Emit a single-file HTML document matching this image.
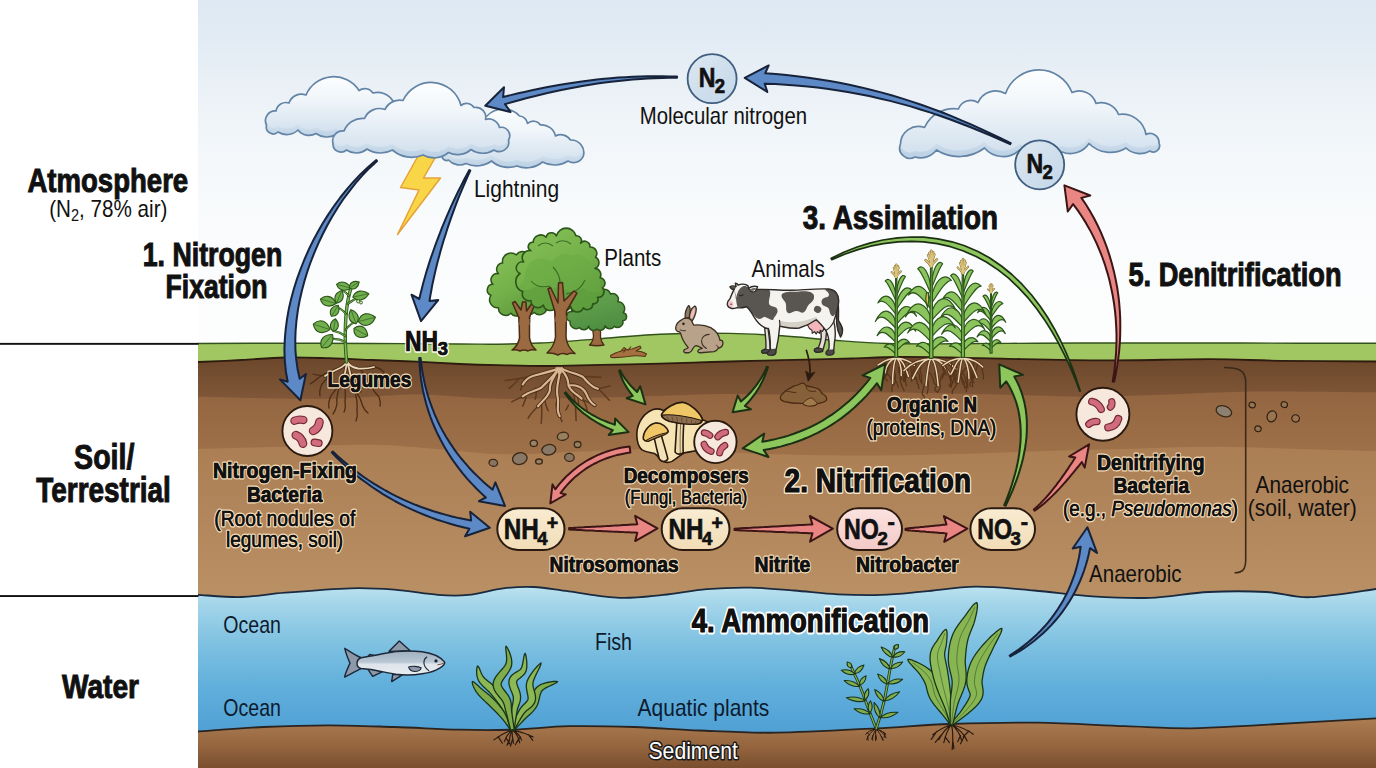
<!DOCTYPE html>
<html lang="en"><head><meta charset="utf-8"><title>Nitrogen Cycle</title>
<style>
html,body{margin:0;padding:0;background:#fff;}
body{width:1376px;height:768px;overflow:hidden;font-family:"Liberation Sans",sans-serif;}
svg{display:block}
text{font-family:"Liberation Sans",sans-serif;fill:#111}
.b{font-weight:bold}
.o{paint-order:stroke fill;stroke:#f3dfbd;stroke-width:3px;stroke-linejoin:round}
.ow{paint-order:stroke fill;stroke:#fff;stroke-width:4.8px;stroke-linejoin:round}
.on{paint-order:stroke fill;stroke:#f6e8cf;stroke-width:4px;stroke-linejoin:round}

.oc{paint-order:stroke fill;stroke:#fdfbf0;stroke-width:3.6px;stroke-linejoin:round}
.sb{stroke:#111;stroke-width:0.7px}
.st{stroke:#111;stroke-width:1px}
.sr{stroke:#111;stroke-width:0.4px}
.wt{fill:#0d1b2e}
.sd{fill:#fff;paint-order:stroke fill;stroke:#1a1a1a;stroke-width:3px;stroke-linejoin:round}
</style></head><body>
<svg width="1376" height="768" viewBox="0 0 1376 768">
<!-- 00_bg.py -->

<defs>
<linearGradient id="sky" x1="0" y1="0" x2="0" y2="1"><stop offset="0" stop-color="#dde8f2"/><stop offset="0.12" stop-color="#e3ecf4"/><stop offset="0.28" stop-color="#ecf2f7"/><stop offset="0.42" stop-color="#f3f7fa"/><stop offset="0.6" stop-color="#f9fbfc"/><stop offset="1" stop-color="#fefefe"/></linearGradient>
<linearGradient id="water" gradientUnits="userSpaceOnUse" x1="0" y1="588" x2="0" y2="735"><stop offset="0" stop-color="#bae1ef"/><stop offset="0.1" stop-color="#a5d6ea"/><stop offset="0.35" stop-color="#82c3e2"/><stop offset="0.65" stop-color="#62b0dc"/><stop offset="1" stop-color="#4f9fd4"/></linearGradient>
<linearGradient id="soil1" gradientUnits="userSpaceOnUse" x1="0" y1="358" x2="0" y2="405"><stop offset="0" stop-color="#6c472b"/><stop offset="1" stop-color="#835a3a"/></linearGradient>
<linearGradient id="soil2" gradientUnits="userSpaceOnUse" x1="0" y1="395" x2="0" y2="460"><stop offset="0" stop-color="#936641"/><stop offset="1" stop-color="#a0724a"/></linearGradient>
<linearGradient id="soil3" gradientUnits="userSpaceOnUse" x1="0" y1="445" x2="0" y2="600"><stop offset="0" stop-color="#ab7e54"/><stop offset="1" stop-color="#ba9065"/></linearGradient>
<linearGradient id="sedg" gradientUnits="userSpaceOnUse" x1="0" y1="722" x2="0" y2="768"><stop offset="0" stop-color="#a97a50"/><stop offset="0.5" stop-color="#96663f"/><stop offset="1" stop-color="#7a4f2e"/></linearGradient>
<linearGradient id="cl" x1="0" y1="0" x2="0" y2="1"><stop offset="0" stop-color="#fbfdff"/><stop offset="0.6" stop-color="#e6eef6"/><stop offset="1" stop-color="#b9cfe3"/></linearGradient>
<filter id="blur2" x="-5%" y="-50%" width="110%" height="200%"><feGaussianBlur stdDeviation="1.5"/></filter>
</defs>
<rect x="0" y="0" width="1376" height="768" fill="#ffffff"/>
<rect x="198" y="0" width="1178" height="362" fill="url(#sky)"/>
<path d="M198 343.5 C212.5 343.4 256 343.2 285 343.2 C314 343.2 342.8 343.4 372 343.5 C401.2 343.6 439 343.9 460 344 C481 344.1 484.7 344.4 498 344.2 C511.3 344 524.7 343.8 540 343 C555.3 342.2 570 341.1 590 339.6 C610 338.1 636.7 335.2 660 334.2 C683.3 333.2 709.7 333.1 730 333.4 C750.3 333.7 764.7 334.7 782 335.8 C799.3 336.9 816.5 338.9 834 340.2 C851.5 341.5 867.7 342.9 887 343.5 C906.3 344.1 925 343.9 950 343.8 C975 343.8 1007.8 343.3 1037 343.2 C1066.2 343.1 1095.8 343 1125 343 C1154.2 343 1183 343 1212 343 C1241 343 1271.7 343.2 1299 343.2 C1326.3 343.2 1363.2 343.2 1376 343.2 L1376 380 L198 380 Z" fill="#a0c762"/><path d="M198 343.5 C212.5 343.4 256 343.2 285 343.2 C314 343.2 342.8 343.4 372 343.5 C401.2 343.6 439 343.9 460 344 C481 344.1 484.7 344.4 498 344.2 C511.3 344 524.7 343.8 540 343 C555.3 342.2 570 341.1 590 339.6 C610 338.1 636.7 335.2 660 334.2 C683.3 333.2 709.7 333.1 730 333.4 C750.3 333.7 764.7 334.7 782 335.8 C799.3 336.9 816.5 338.9 834 340.2 C851.5 341.5 867.7 342.9 887 343.5 C906.3 344.1 925 343.9 950 343.8 C975 343.8 1007.8 343.3 1037 343.2 C1066.2 343.1 1095.8 343 1125 343 C1154.2 343 1183 343 1212 343 C1241 343 1271.7 343.2 1299 343.2 C1326.3 343.2 1363.2 343.2 1376 343.2" fill="none" stroke="#33521c" stroke-width="1.4"/><path d="M198 362 C205.3 361.7 227.1 360.8 241.6 360 C256.1 359.2 270.4 357.8 285 357.5 C299.6 357.2 314.5 357.8 329 358.2 C343.5 358.6 357.5 359.4 372 360 C386.5 360.6 401.3 361 416 361.7 C430.7 362.4 446.3 363.4 460 364 C473.7 364.6 483.5 364.9 498 365.2 C512.5 365.5 530 366.1 547 366 C564 365.9 581.2 365.2 600 364.8 C618.8 364.4 641.3 364.2 660 363.7 C678.7 363.2 694.5 362.5 712 362 C729.5 361.5 747.5 361 765 360.6 C782.5 360.2 802.5 359.8 817 359.4 C831.5 359 838.5 358.9 852 358.5 C865.5 358.1 881.7 357.2 898 357 C914.3 356.8 932.7 357.2 950 357.5 C967.3 357.8 976 358.2 1002 358.7 C1028 359.2 1071.3 360.3 1106 360.4 C1140.7 360.5 1181 359.1 1210 359.2 C1239 359.3 1252.3 360.4 1280 360.8 C1307.7 361.2 1360 361.4 1376 361.5 L1376 612 L198 612 Z" fill="url(#soil1)"/><path d="M198 362 C205.3 361.7 227.1 360.8 241.6 360 C256.1 359.2 270.4 357.8 285 357.5 C299.6 357.2 314.5 357.8 329 358.2 C343.5 358.6 357.5 359.4 372 360 C386.5 360.6 401.3 361 416 361.7 C430.7 362.4 446.3 363.4 460 364 C473.7 364.6 483.5 364.9 498 365.2 C512.5 365.5 530 366.1 547 366 C564 365.9 581.2 365.2 600 364.8 C618.8 364.4 641.3 364.2 660 363.7 C678.7 363.2 694.5 362.5 712 362 C729.5 361.5 747.5 361 765 360.6 C782.5 360.2 802.5 359.8 817 359.4 C831.5 359 838.5 358.9 852 358.5 C865.5 358.1 881.7 357.2 898 357 C914.3 356.8 932.7 357.2 950 357.5 C967.3 357.8 976 358.2 1002 358.7 C1028 359.2 1071.3 360.3 1106 360.4 C1140.7 360.5 1181 359.1 1210 359.2 C1239 359.3 1252.3 360.4 1280 360.8 C1307.7 361.2 1360 361.4 1376 361.5" fill="none" stroke="#2e1c10" stroke-width="1.8"/><path d="M198 396.7 C219.8 397.1 292.7 399.3 329 398.9 C365.3 398.5 387 394.5 416 394.5 C445 394.5 466.7 398.5 503 398.9 C539.3 399.3 597.8 397.5 634 396.7 C670.2 395.9 696.3 394.4 720 394 C743.7 393.6 752.2 394.8 776 394.5 C799.8 394.2 826.7 392.3 863 392.3 C899.3 392.3 957.7 393.8 994 394.5 C1030.3 395.2 1052 396.7 1081 396.7 C1110 396.7 1138.8 395.4 1168 394.5 C1197.2 393.6 1221.3 391.9 1256 391.5 C1290.7 391.1 1356 392.2 1376 392.3 L1376 612 L198 612 Z" fill="url(#soil2)"/><path d="M198 449 C212.5 448.6 256 447.5 285 446.8 C314 446.1 346.5 444.3 372 444.7 C397.5 445.1 416.2 447.4 438 449 C459.8 450.6 477.7 453.9 503 454.3 C528.3 454.7 564.5 452.1 590 451.2 C615.5 450.3 634.3 448.9 656 449 C677.7 449.1 700 451.1 720 452 C740 452.9 752.2 453.7 776 454.3 C799.8 454.9 834 455.6 863 455.6 C892 455.6 920.8 455 950 454.3 C979.2 453.6 1008.8 452.1 1038 451.2 C1067.2 450.3 1096 449.7 1125 449 C1154 448.3 1183 446.8 1212 446.8 C1241 446.8 1271.7 448.3 1299 449 C1326.3 449.7 1363.2 450.8 1376 451.2 L1376 612 L198 612 Z" fill="url(#soil3)"/><path d="M198 594.9 C205.3 595.2 227.1 597.4 241.6 597 C256.1 596.6 267 594.2 285.2 592.7 C303.4 591.2 332.4 588.8 350.6 588.3 C368.8 587.8 379.6 588.6 394.2 589.7 C408.8 590.8 425.5 594 437.9 594.9 C450.3 595.8 457.5 596 468.4 594.9 C479.3 593.8 492.4 589.6 503.3 588.3 C514.2 587 522.9 586.5 533.8 587 C544.7 587.5 554.4 589.6 568.7 591.4 C583 593.2 603.9 597.2 619.6 597.8 C635.4 598.4 648.7 596.3 663.2 594.9 C677.7 593.5 692.3 590.3 706.8 589.1 C721.3 587.9 735.9 587.4 750.4 587.6 C764.9 587.8 779.5 589.4 794 590.5 C808.5 591.6 823.1 593.6 837.6 594.3 C852.1 595 866.7 595.4 881.2 594.9 C895.7 594.4 909 592.8 924.8 591.4 C940.6 590 957.8 586.9 976 586.7 C994.2 586.6 1014.7 588.9 1034 590.5 C1053.3 592.1 1072.7 595.1 1092 596.3 C1111.3 597.5 1130.6 598.5 1150 597.8 C1169.4 597.1 1189.1 593 1208.6 592 C1228 591 1249.8 591.1 1266.7 592 C1283.6 592.9 1291.8 597.7 1310 597.2 C1328.2 596.7 1365 590.4 1376 589 L1376 745 L198 745 Z" fill="url(#water)"/><path d="M198 594.9 C205.3 595.2 227.1 597.4 241.6 597 C256.1 596.6 267 594.2 285.2 592.7 C303.4 591.2 332.4 588.8 350.6 588.3 C368.8 587.8 379.6 588.6 394.2 589.7 C408.8 590.8 425.5 594 437.9 594.9 C450.3 595.8 457.5 596 468.4 594.9 C479.3 593.8 492.4 589.6 503.3 588.3 C514.2 587 522.9 586.5 533.8 587 C544.7 587.5 554.4 589.6 568.7 591.4 C583 593.2 603.9 597.2 619.6 597.8 C635.4 598.4 648.7 596.3 663.2 594.9 C677.7 593.5 692.3 590.3 706.8 589.1 C721.3 587.9 735.9 587.4 750.4 587.6 C764.9 587.8 779.5 589.4 794 590.5 C808.5 591.6 823.1 593.6 837.6 594.3 C852.1 595 866.7 595.4 881.2 594.9 C895.7 594.4 909 592.8 924.8 591.4 C940.6 590 957.8 586.9 976 586.7 C994.2 586.6 1014.7 588.9 1034 590.5 C1053.3 592.1 1072.7 595.1 1092 596.3 C1111.3 597.5 1130.6 598.5 1150 597.8 C1169.4 597.1 1189.1 593 1208.6 592 C1228 591 1249.8 591.1 1266.7 592 C1283.6 592.9 1291.8 597.7 1310 597.2 C1328.2 596.7 1365 590.4 1376 589" fill="none" stroke="#1b2b3f" stroke-width="1.8"/><path d="M198 731.4 C208.9 730.7 241.6 728 263.4 727 C285.2 726 307 725.3 328.8 725.3 C350.6 725.3 372.4 726.3 394.2 727 C416 727.7 440.1 729.2 459.7 729.7 C479.3 730.2 493.8 730.3 512 729.7 C530.2 729.1 548.4 726.7 568.7 726.2 C589 725.8 612.2 726.3 634 727 C655.8 727.7 675.8 729.5 699.5 730.5 C723.2 731.5 746.5 733.1 776 732.7 C805.5 732.3 847.2 729.8 876.3 728.3 C905.4 726.8 923.5 724.9 950.4 724 C977.3 723.1 1008.6 722.3 1037.7 722.7 C1066.8 723.1 1099.6 725.3 1125 726.2 C1150.4 727.1 1168.5 728.4 1190.3 728.3 C1212.1 728.1 1224.8 727 1255.7 725.3 C1286.7 723.6 1356 719.5 1376 718.3 L1376 768 L198 768 Z" fill="url(#sedg)"/><path d="M198 731.4 C208.9 730.7 241.6 728 263.4 727 C285.2 726 307 725.3 328.8 725.3 C350.6 725.3 372.4 726.3 394.2 727 C416 727.7 440.1 729.2 459.7 729.7 C479.3 730.2 493.8 730.3 512 729.7 C530.2 729.1 548.4 726.7 568.7 726.2 C589 725.8 612.2 726.3 634 727 C655.8 727.7 675.8 729.5 699.5 730.5 C723.2 731.5 746.5 733.1 776 732.7 C805.5 732.3 847.2 729.8 876.3 728.3 C905.4 726.8 923.5 724.9 950.4 724 C977.3 723.1 1008.6 722.3 1037.7 722.7 C1066.8 723.1 1099.6 725.3 1125 726.2 C1150.4 727.1 1168.5 728.4 1190.3 728.3 C1212.1 728.1 1224.8 727 1255.7 725.3 C1286.7 723.6 1356 719.5 1376 718.3" fill="none" stroke="#2a2420" stroke-width="1.8"/><rect x="0" y="342.9" width="198.5" height="1.9" fill="#111"/>
<rect x="0" y="595.1" width="198.5" height="1.9" fill="#111"/>

<!-- 10_clouds.py -->
<defs><linearGradient id="cl2" x1="0" y1="0" x2="0" y2="1"><stop offset="0" stop-color="#ffffff"/><stop offset="0.45" stop-color="#f1f6fa"/><stop offset="1" stop-color="#d3e1ee"/></linearGradient></defs><g><clipPath id="cA"><path d="M266.5 125 A9.7 9.7 0 0 1 276 111 A10.1 10.1 0 0 1 289 103 A13 13 0 0 1 306 95 A30.1 30.1 0 0 1 359 90.5 A9.9 9.9 0 0 1 373 93 A18.3 18.3 0 0 1 393 101 A12.6 12.6 0 0 1 400 118 A18.1 18.1 0 0 1 385 135 A29.8 29.8 0 0 1 357 134.5 A19.9 19.9 0 0 1 336 134.5 A18.2 18.2 0 0 1 316 133.5 A13.8 13.8 0 0 1 298 130 A16.2 16.2 0 0 1 278 132 A7 7 0 0 1 266.5 125Z"/></clipPath><path d="M266.5 125 A9.7 9.7 0 0 1 276 111 A10.1 10.1 0 0 1 289 103 A13 13 0 0 1 306 95 A30.1 30.1 0 0 1 359 90.5 A9.9 9.9 0 0 1 373 93 A18.3 18.3 0 0 1 393 101 A12.6 12.6 0 0 1 400 118 A18.1 18.1 0 0 1 385 135 A29.8 29.8 0 0 1 357 134.5 A19.9 19.9 0 0 1 336 134.5 A18.2 18.2 0 0 1 316 133.5 A13.8 13.8 0 0 1 298 130 A16.2 16.2 0 0 1 278 132 A7 7 0 0 1 266.5 125Z" fill="url(#cl)"/><g clip-path="url(#cA)"><path d="M266.5 125 A9.7 9.7 0 0 1 276 111 A10.1 10.1 0 0 1 289 103 A13 13 0 0 1 306 95 A30.1 30.1 0 0 1 359 90.5 A9.9 9.9 0 0 1 373 93 A18.3 18.3 0 0 1 393 101 A12.6 12.6 0 0 1 400 118 A18.1 18.1 0 0 1 385 135 A29.8 29.8 0 0 1 357 134.5 A19.9 19.9 0 0 1 336 134.5 A18.2 18.2 0 0 1 316 133.5 A13.8 13.8 0 0 1 298 130 A16.2 16.2 0 0 1 278 132 A7 7 0 0 1 266.5 125Z" transform="translate(0,-6)" fill="url(#cl2)"/></g><path d="M266.5 125 A9.7 9.7 0 0 1 276 111 A10.1 10.1 0 0 1 289 103 A13 13 0 0 1 306 95 A30.1 30.1 0 0 1 359 90.5 A9.9 9.9 0 0 1 373 93 A18.3 18.3 0 0 1 393 101 A12.6 12.6 0 0 1 400 118 A18.1 18.1 0 0 1 385 135 A29.8 29.8 0 0 1 357 134.5 A19.9 19.9 0 0 1 336 134.5 A18.2 18.2 0 0 1 316 133.5 A13.8 13.8 0 0 1 298 130 A16.2 16.2 0 0 1 278 132 A7 7 0 0 1 266.5 125Z" fill="none" stroke="#6384a6" stroke-width="1.7" stroke-linejoin="round"/></g><g><clipPath id="cC"><path d="M442.5 154 A12.9 12.9 0 0 1 450 135 A45.8 45.8 0 0 1 487 116 A22.4 22.4 0 0 1 519.5 116 A8.5 8.5 0 0 1 527.5 123.5 A8.6 8.6 0 0 1 540.5 125 A14.1 14.1 0 0 1 555.5 136 A11.5 11.5 0 0 1 570.5 140 A12.7 12.7 0 0 1 583.5 155.5 A10.5 10.5 0 0 1 568 161 A25 25 0 0 1 542.5 162 A25.5 25.5 0 0 1 517 166 A25.9 25.9 0 0 1 491.5 161 A25.2 25.2 0 0 1 466 163.5 A14.8 14.8 0 0 1 448.5 160 A4.5 4.5 0 0 1 442.5 154Z"/></clipPath><path d="M442.5 154 A12.9 12.9 0 0 1 450 135 A45.8 45.8 0 0 1 487 116 A22.4 22.4 0 0 1 519.5 116 A8.5 8.5 0 0 1 527.5 123.5 A8.6 8.6 0 0 1 540.5 125 A14.1 14.1 0 0 1 555.5 136 A11.5 11.5 0 0 1 570.5 140 A12.7 12.7 0 0 1 583.5 155.5 A10.5 10.5 0 0 1 568 161 A25 25 0 0 1 542.5 162 A25.5 25.5 0 0 1 517 166 A25.9 25.9 0 0 1 491.5 161 A25.2 25.2 0 0 1 466 163.5 A14.8 14.8 0 0 1 448.5 160 A4.5 4.5 0 0 1 442.5 154Z" fill="url(#cl)"/><g clip-path="url(#cC)"><path d="M442.5 154 A12.9 12.9 0 0 1 450 135 A45.8 45.8 0 0 1 487 116 A22.4 22.4 0 0 1 519.5 116 A8.5 8.5 0 0 1 527.5 123.5 A8.6 8.6 0 0 1 540.5 125 A14.1 14.1 0 0 1 555.5 136 A11.5 11.5 0 0 1 570.5 140 A12.7 12.7 0 0 1 583.5 155.5 A10.5 10.5 0 0 1 568 161 A25 25 0 0 1 542.5 162 A25.5 25.5 0 0 1 517 166 A25.9 25.9 0 0 1 491.5 161 A25.2 25.2 0 0 1 466 163.5 A14.8 14.8 0 0 1 448.5 160 A4.5 4.5 0 0 1 442.5 154Z" transform="translate(0,-6)" fill="url(#cl2)"/></g><path d="M442.5 154 A12.9 12.9 0 0 1 450 135 A45.8 45.8 0 0 1 487 116 A22.4 22.4 0 0 1 519.5 116 A8.5 8.5 0 0 1 527.5 123.5 A8.6 8.6 0 0 1 540.5 125 A14.1 14.1 0 0 1 555.5 136 A11.5 11.5 0 0 1 570.5 140 A12.7 12.7 0 0 1 583.5 155.5 A10.5 10.5 0 0 1 568 161 A25 25 0 0 1 542.5 162 A25.5 25.5 0 0 1 517 166 A25.9 25.9 0 0 1 491.5 161 A25.2 25.2 0 0 1 466 163.5 A14.8 14.8 0 0 1 448.5 160 A4.5 4.5 0 0 1 442.5 154Z" fill="none" stroke="#6384a6" stroke-width="1.7" stroke-linejoin="round"/></g><path d="M418 156 L438.5 152 L423.5 178 L440.5 178 L397.5 234.5 L419 190 L400.5 187.5Z" fill="#f8d648" stroke="#e5a238" stroke-width="1.5" stroke-linejoin="round"/><g><clipPath id="cB"><path d="M333 143.5 A10 10 0 0 1 344 131 A20 20 0 0 1 364.5 118.5 A16.2 16.2 0 0 1 385 109.5 A16.2 16.2 0 0 1 403 100.5 A30.9 30.9 0 0 1 461 105.5 A8.7 8.7 0 0 1 474 107.5 A9.9 9.9 0 0 1 485.5 119.5 A11 11 0 0 1 499.5 127.5 A8.4 8.4 0 0 1 508.5 140 A9.5 9.5 0 0 1 494 150 A20.7 20.7 0 0 1 471 149.5 A20.2 20.2 0 0 1 448.5 152.5 A22.5 22.5 0 0 1 423 155 A28.8 28.8 0 0 1 392.5 150 A25 25 0 0 1 367 149 A16.8 16.8 0 0 1 346.5 150 A8.1 8.1 0 0 1 333 143.5Z"/></clipPath><path d="M333 143.5 A10 10 0 0 1 344 131 A20 20 0 0 1 364.5 118.5 A16.2 16.2 0 0 1 385 109.5 A16.2 16.2 0 0 1 403 100.5 A30.9 30.9 0 0 1 461 105.5 A8.7 8.7 0 0 1 474 107.5 A9.9 9.9 0 0 1 485.5 119.5 A11 11 0 0 1 499.5 127.5 A8.4 8.4 0 0 1 508.5 140 A9.5 9.5 0 0 1 494 150 A20.7 20.7 0 0 1 471 149.5 A20.2 20.2 0 0 1 448.5 152.5 A22.5 22.5 0 0 1 423 155 A28.8 28.8 0 0 1 392.5 150 A25 25 0 0 1 367 149 A16.8 16.8 0 0 1 346.5 150 A8.1 8.1 0 0 1 333 143.5Z" fill="url(#cl)"/><g clip-path="url(#cB)"><path d="M333 143.5 A10 10 0 0 1 344 131 A20 20 0 0 1 364.5 118.5 A16.2 16.2 0 0 1 385 109.5 A16.2 16.2 0 0 1 403 100.5 A30.9 30.9 0 0 1 461 105.5 A8.7 8.7 0 0 1 474 107.5 A9.9 9.9 0 0 1 485.5 119.5 A11 11 0 0 1 499.5 127.5 A8.4 8.4 0 0 1 508.5 140 A9.5 9.5 0 0 1 494 150 A20.7 20.7 0 0 1 471 149.5 A20.2 20.2 0 0 1 448.5 152.5 A22.5 22.5 0 0 1 423 155 A28.8 28.8 0 0 1 392.5 150 A25 25 0 0 1 367 149 A16.8 16.8 0 0 1 346.5 150 A8.1 8.1 0 0 1 333 143.5Z" transform="translate(0,-6)" fill="url(#cl2)"/></g><path d="M333 143.5 A10 10 0 0 1 344 131 A20 20 0 0 1 364.5 118.5 A16.2 16.2 0 0 1 385 109.5 A16.2 16.2 0 0 1 403 100.5 A30.9 30.9 0 0 1 461 105.5 A8.7 8.7 0 0 1 474 107.5 A9.9 9.9 0 0 1 485.5 119.5 A11 11 0 0 1 499.5 127.5 A8.4 8.4 0 0 1 508.5 140 A9.5 9.5 0 0 1 494 150 A20.7 20.7 0 0 1 471 149.5 A20.2 20.2 0 0 1 448.5 152.5 A22.5 22.5 0 0 1 423 155 A28.8 28.8 0 0 1 392.5 150 A25 25 0 0 1 367 149 A16.8 16.8 0 0 1 346.5 150 A8.1 8.1 0 0 1 333 143.5Z" fill="none" stroke="#6384a6" stroke-width="1.7" stroke-linejoin="round"/></g><g><clipPath id="cD"><path d="M900.5 144 A17.9 17.9 0 0 1 924.5 127.5 A32.1 32.1 0 0 1 958.5 109 A13.1 13.1 0 0 1 978 102.5 A19.4 19.4 0 0 1 1005.5 93.5 A35.5 35.5 0 0 1 1072 92.5 A17.5 17.5 0 0 1 1096 103.5 A18.2 18.2 0 0 1 1118.5 114.5 A24.1 24.1 0 0 1 1146 134.5 A9 9 0 0 1 1159 143 A6.3 6.3 0 0 1 1150 151 A20.3 20.3 0 0 1 1126 148 A30 30 0 0 1 1089 143.5 A22.5 22.5 0 0 1 1062 152 A38.1 38.1 0 0 1 1019.5 150 A24.2 24.2 0 0 1 984.5 148 A42.2 42.2 0 0 1 936.5 150 A20 20 0 0 1 915 157 A10.3 10.3 0 0 1 900.5 144Z"/></clipPath><path d="M900.5 144 A17.9 17.9 0 0 1 924.5 127.5 A32.1 32.1 0 0 1 958.5 109 A13.1 13.1 0 0 1 978 102.5 A19.4 19.4 0 0 1 1005.5 93.5 A35.5 35.5 0 0 1 1072 92.5 A17.5 17.5 0 0 1 1096 103.5 A18.2 18.2 0 0 1 1118.5 114.5 A24.1 24.1 0 0 1 1146 134.5 A9 9 0 0 1 1159 143 A6.3 6.3 0 0 1 1150 151 A20.3 20.3 0 0 1 1126 148 A30 30 0 0 1 1089 143.5 A22.5 22.5 0 0 1 1062 152 A38.1 38.1 0 0 1 1019.5 150 A24.2 24.2 0 0 1 984.5 148 A42.2 42.2 0 0 1 936.5 150 A20 20 0 0 1 915 157 A10.3 10.3 0 0 1 900.5 144Z" fill="url(#cl)"/><g clip-path="url(#cD)"><path d="M900.5 144 A17.9 17.9 0 0 1 924.5 127.5 A32.1 32.1 0 0 1 958.5 109 A13.1 13.1 0 0 1 978 102.5 A19.4 19.4 0 0 1 1005.5 93.5 A35.5 35.5 0 0 1 1072 92.5 A17.5 17.5 0 0 1 1096 103.5 A18.2 18.2 0 0 1 1118.5 114.5 A24.1 24.1 0 0 1 1146 134.5 A9 9 0 0 1 1159 143 A6.3 6.3 0 0 1 1150 151 A20.3 20.3 0 0 1 1126 148 A30 30 0 0 1 1089 143.5 A22.5 22.5 0 0 1 1062 152 A38.1 38.1 0 0 1 1019.5 150 A24.2 24.2 0 0 1 984.5 148 A42.2 42.2 0 0 1 936.5 150 A20 20 0 0 1 915 157 A10.3 10.3 0 0 1 900.5 144Z" transform="translate(0,-6)" fill="url(#cl2)"/></g><path d="M900.5 144 A17.9 17.9 0 0 1 924.5 127.5 A32.1 32.1 0 0 1 958.5 109 A13.1 13.1 0 0 1 978 102.5 A19.4 19.4 0 0 1 1005.5 93.5 A35.5 35.5 0 0 1 1072 92.5 A17.5 17.5 0 0 1 1096 103.5 A18.2 18.2 0 0 1 1118.5 114.5 A24.1 24.1 0 0 1 1146 134.5 A9 9 0 0 1 1159 143 A6.3 6.3 0 0 1 1150 151 A20.3 20.3 0 0 1 1126 148 A30 30 0 0 1 1089 143.5 A22.5 22.5 0 0 1 1062 152 A38.1 38.1 0 0 1 1019.5 150 A24.2 24.2 0 0 1 984.5 148 A42.2 42.2 0 0 1 936.5 150 A20 20 0 0 1 915 157 A10.3 10.3 0 0 1 900.5 144Z" fill="none" stroke="#6384a6" stroke-width="1.7" stroke-linejoin="round"/></g>
<!-- 20_trees.py -->
<defs>
<linearGradient id="tg1" x1="0" y1="0" x2="0.6" y2="1"><stop offset="0" stop-color="#86c057"/><stop offset="0.6" stop-color="#74b049"/><stop offset="1" stop-color="#5c9a3c"/></linearGradient>
<linearGradient id="tg3" x1="0" y1="0" x2="0.4" y2="1"><stop offset="0" stop-color="#6aa952"/><stop offset="1" stop-color="#4f8f42"/></linearGradient>
</defs>
<path d="M589.5 345 Q593 342 593.5 336 L592.5 328 L590 324.5 L592 323.5 L595.5 326.5 L597 323 L599 323.5 L599 327 L602.5 324 L604 325.5 L600.5 330 L600.5 337 Q601 342 604 345 Q597 346.5 589.5 345Z" fill="#9b6a40" stroke="#4a2c16" stroke-width="1.3" stroke-linejoin="round"/>
<path d="M570.1 321.3 A4.9 4.9 0 0 1 572.3 311.7 A5 5 0 0 1 578.7 304.5 A5.6 5.6 0 0 1 586.9 297.2 A6.5 6.5 0 0 1 597.8 293.1 A6.8 6.8 0 0 1 610.5 294 A5.7 5.7 0 0 1 617.8 301.7 A6.9 6.9 0 0 1 623.3 312.7 A4.1 4.1 0 0 1 622.8 320.8 A5.4 5.4 0 0 1 614.2 326.3 A5.2 5.2 0 0 1 605.1 325.9 A4.9 4.9 0 0 1 596.9 329 A4.8 4.8 0 0 1 588.7 326.3 A5.2 5.2 0 0 1 579.6 327.7 A6.3 6.3 0 0 1 570.1 321.3Z" fill="url(#tg3)" stroke="#2b5519" stroke-width="1.5" stroke-linejoin="round"/>
<path d="M512 350 Q518 346 519.5 338 L519 318 L512.5 303 L515 301.5 L521 310 L522.5 302 L526 302 L526.5 311 L532.5 302.5 L535 304 L529.5 317 L529.5 338 Q531 346 536 350 Q531 349 528 351 Q524 349 520 351 Q516 349 512 350Z" fill="#9b6a40" stroke="#4a2c16" stroke-width="1.5" stroke-linejoin="round"/>
<path d="M490.9 295.3 A5.7 5.7 0 0 1 493 284.3 A6.2 6.2 0 0 1 498.5 273.7 A6.2 6.2 0 0 1 502.6 263.1 A8.6 8.6 0 0 1 516.4 254.9 A7.7 7.7 0 0 1 530.2 257.6 A7.4 7.4 0 0 1 539.4 267.7 A13 13 0 0 1 546.8 286.1 A14.5 14.5 0 0 1 546.8 307.3 A7.2 7.2 0 0 1 534.4 312.4 A8.5 8.5 0 0 1 522 311 A6.2 6.2 0 0 1 510.9 313.3 A7.3 7.3 0 0 1 498.5 307.8 A8.1 8.1 0 0 1 490.9 295.3Z" fill="url(#tg1)" stroke="#2b5519" stroke-width="1.5" stroke-linejoin="round"/>
<path d="M519.3 322 L519 318 L512.5 303 L515 301.5 L521 310 L522.5 302 L526 302 L526.5 311 L532.5 302.5 L535 304 L529.5 317 L529.5 322Z" fill="#9b6a40" stroke="#4a2c16" stroke-width="1.5" stroke-linejoin="round"/>
<path d="M519.4 319 L519.4 325 L529.5 325 L529.5 319Z" fill="#9b6a40"/>
<path d="M547 353 Q554 347 555.5 337 L555 312 L548 289 L550.5 287.5 L558 303 L558.5 283 L562.5 282.5 L564 301 L574 291 L577 293 L566.5 311 L566 337 Q567 347 575 353.5 Q570 352.5 567 354.5 Q562 352.5 558 355 Q553 352.5 547 353Z" fill="#9b6a40" stroke="#4a2c16" stroke-width="1.5" stroke-linejoin="round"/>
<clipPath id="ct2"><path d="M520.1 273.5 A6.1 6.1 0 0 1 523.7 261.9 A7.1 7.1 0 0 1 530.9 250.7 A4.4 4.4 0 0 1 533.2 242.3 A7.6 7.6 0 0 1 546.2 237.2 A5.4 5.4 0 0 1 556.4 235.8 A10.1 10.1 0 0 1 576 235.8 A4.8 4.8 0 0 1 580.6 243.3 A5.2 5.2 0 0 1 589.9 247 A6.4 6.4 0 0 1 595.5 257.2 A6.1 6.1 0 0 1 595 268.4 A6.4 6.4 0 0 1 600.1 277.7 A5.6 5.6 0 0 1 602.5 287.9 A5.6 5.6 0 0 1 597.4 297.2 A4.3 4.3 0 0 1 592.7 303.7 A5.4 5.4 0 0 1 583.4 307.9 A6.6 6.6 0 0 1 570.8 306.5 A7.9 7.9 0 0 1 556.4 306.5 A6.9 6.9 0 0 1 543.4 305.1 A7.1 7.1 0 0 1 530.9 300.5 A6.7 6.7 0 0 1 522.8 291.6 A10.3 10.3 0 0 1 520.1 273.5Z"/></clipPath>
<path d="M520.1 273.5 A6.1 6.1 0 0 1 523.7 261.9 A7.1 7.1 0 0 1 530.9 250.7 A4.4 4.4 0 0 1 533.2 242.3 A7.6 7.6 0 0 1 546.2 237.2 A5.4 5.4 0 0 1 556.4 235.8 A10.1 10.1 0 0 1 576 235.8 A4.8 4.8 0 0 1 580.6 243.3 A5.2 5.2 0 0 1 589.9 247 A6.4 6.4 0 0 1 595.5 257.2 A6.1 6.1 0 0 1 595 268.4 A6.4 6.4 0 0 1 600.1 277.7 A5.6 5.6 0 0 1 602.5 287.9 A5.6 5.6 0 0 1 597.4 297.2 A4.3 4.3 0 0 1 592.7 303.7 A5.4 5.4 0 0 1 583.4 307.9 A6.6 6.6 0 0 1 570.8 306.5 A7.9 7.9 0 0 1 556.4 306.5 A6.9 6.9 0 0 1 543.4 305.1 A7.1 7.1 0 0 1 530.9 300.5 A6.7 6.7 0 0 1 522.8 291.6 A10.3 10.3 0 0 1 520.1 273.5Z" fill="url(#tg1)"/>
<g clip-path="url(#ct2)"><path d="M531 262 Q540 255 552 262 Q560 250 572 256 Q582 252 590 262 Q600 270 600 285 L606 310 L520 312 Q515 290 524 280 Q525 268 531 262Z" fill="#6aa944" opacity="0.55"/><path d="M538 285 Q548 292 560 286 Q570 296 584 288 Q592 296 604 290 L604 312 L520 312 L520 290 Q528 292 538 285Z" fill="#5a9a3a" opacity="0.5"/></g>
<path d="M520.1 273.5 A6.1 6.1 0 0 1 523.7 261.9 A7.1 7.1 0 0 1 530.9 250.7 A4.4 4.4 0 0 1 533.2 242.3 A7.6 7.6 0 0 1 546.2 237.2 A5.4 5.4 0 0 1 556.4 235.8 A10.1 10.1 0 0 1 576 235.8 A4.8 4.8 0 0 1 580.6 243.3 A5.2 5.2 0 0 1 589.9 247 A6.4 6.4 0 0 1 595.5 257.2 A6.1 6.1 0 0 1 595 268.4 A6.4 6.4 0 0 1 600.1 277.7 A5.6 5.6 0 0 1 602.5 287.9 A5.6 5.6 0 0 1 597.4 297.2 A4.3 4.3 0 0 1 592.7 303.7 A5.4 5.4 0 0 1 583.4 307.9 A6.6 6.6 0 0 1 570.8 306.5 A7.9 7.9 0 0 1 556.4 306.5 A6.9 6.9 0 0 1 543.4 305.1 A7.1 7.1 0 0 1 530.9 300.5 A6.7 6.7 0 0 1 522.8 291.6 A10.3 10.3 0 0 1 520.1 273.5Z" fill="none" stroke="#2b5519" stroke-width="1.6" stroke-linejoin="round"/>
<path d="M538 246 Q545 240 553 246 M556 243 Q563 238 571 244 M531 281 Q538 289 550 286 M553 267 Q561 275 560 286 M566 294 Q580 292 585 280" fill="none" stroke="#2b5519" stroke-width="1.1" opacity="0.75"/>
<path d="M555.3 318 L555 312 L548 289 L550.5 287.5 L558 303 L558.5 283 L562.5 282.5 L564 301 L574 291 L577 293 L566.5 311 L566.4 318Z" fill="#9b6a40" stroke="#4a2c16" stroke-width="1.5" stroke-linejoin="round"/>
<path d="M555.4 316 L555.3 322 L566.4 322 L566.4 316Z" fill="#9b6a40"/>
<path d="M610.5 355.5 Q620 350 632 349 L640 346 L641 348 L636 351 Q642 351 646.5 354 L645 356.5 Q636 355 628 356.5 Q618 358 611 357.5Z M620 352 L624 347.5 L626 349 L623.5 352.5 M628 350.5 L631 346.5" fill="#a5703f" stroke="#5a3418" stroke-width="1.1" stroke-linejoin="round"/>
<!-- 30_legume.py -->
<path d="M347 363 Q340 368 333 370 Q325 373 318 378 Q314 382 310 384 M333 370 Q328 378 322 384 Q319 390 320 396 M326 375 Q318 376 313 374 M347 363 Q352 369 360 369 Q368 369 375 367 Q380 368 384 372 M360 369 Q366 376 370 384 Q374 392 379 397 Q381 402 380 406 M370 384 Q376 386 381 384 M347 364 Q344 375 340 386 Q336 396 337 404 Q336 410 333 414 M340 386 Q334 390 330 398 Q328 404 329 408 M347 364 Q350 378 354 390 Q358 400 357 410 Q358 416 356 421 M354 390 Q360 396 362 404 Q364 410 368 413 M344 378 Q346 392 345 402 Q346 408 344 412 M350 380 Q357 384 361 392" fill="none" stroke="#4a2c14" stroke-width="1.3" stroke-linecap="round" stroke-linejoin="round" />
<path d="M347 361.5 Q345 366 338 369 Q331 372 325 376 M347 361.5 Q350 367 358 368.5 Q367 369 374 367 M347 362 Q346 372 342 382 M347.5 362 Q350 374 353 384" fill="none" stroke="#4a2c14" stroke-width="3.4" stroke-linecap="round" stroke-linejoin="round" />
<path d="M347 361.5 Q345 366 338 369 Q331 372 325 376 M347 361.5 Q350 367 358 368.5 Q367 369 374 367 M347 362 Q346 372 342 382 M347.5 362 Q350 374 353 384" fill="none" stroke="#ead8b8" stroke-width="1.8" stroke-linecap="round" stroke-linejoin="round" />
<path d="M346.6 362 Q345 345 345.3 332 Q345.5 315 347.5 303 Q349 294 350.8 289" fill="none" stroke="#2b5519" stroke-width="3.4" stroke-linecap="round"/>
<path d="M346.6 362 Q345 345 345.3 332 Q345.5 315 347.5 303 Q349 294 350.8 289" fill="none" stroke="#7ab857" stroke-width="1.7" stroke-linecap="round"/>
<path d="M345.4 336 Q340 332 334 331 M345.4 330 Q351 323 357 321 M346 314 Q342 309 338 308 M347.5 304 Q353 300 357 298 M349 296 Q346 292 343 291 M345.5 342 Q338 338 331 339" fill="none" stroke="#2b5519" stroke-width="2.2" stroke-linecap="round" stroke-linejoin="round" />
<path d="M345.4 336 Q340 332 334 331 M345.4 330 Q351 323 357 321 M346 314 Q342 309 338 308 M347.5 304 Q353 300 357 298 M349 296 Q346 292 343 291 M345.5 342 Q338 338 331 339" fill="none" stroke="#7ab857" stroke-width="0.9" stroke-linecap="round" stroke-linejoin="round" />
<g transform="translate(343.8 286.3) rotate(15)"><path d="M-7.5 0 C-3.8 -5.6 3 -4.9 7.5 0 C3 4.9 -3.8 5.6 -7.5 0Z" fill="#70ae4e" stroke="#2b5519" stroke-width="1.1" stroke-linejoin="round"/><path d="M-6.5 0 L6.5 0" stroke="#2b5519" stroke-width="0.7" opacity="0.8"/></g>
<g transform="translate(354.3 285) rotate(-32)"><path d="M-5.8 0 C-2.9 -4.9 2.3 -4.2 5.8 0 C2.3 4.2 -2.9 4.9 -5.8 0Z" fill="#70ae4e" stroke="#2b5519" stroke-width="1.1" stroke-linejoin="round"/><path d="M-4.8 0 L4.8 0" stroke="#2b5519" stroke-width="0.7" opacity="0.8"/></g>
<g transform="translate(339.2 296.8) rotate(-68)"><path d="M-6.8 0 C-3.4 -5.6 2.7 -4.9 6.8 0 C2.7 4.9 -3.4 5.6 -6.8 0Z" fill="#70ae4e" stroke="#2b5519" stroke-width="1.1" stroke-linejoin="round"/><path d="M-5.8 0 L5.8 0" stroke="#2b5519" stroke-width="0.7" opacity="0.8"/></g>
<g transform="translate(360.8 295.4) rotate(-12)"><path d="M-8.2 0 C-4.1 -6.4 3.3 -5.5 8.2 0 C3.3 5.5 -4.1 6.4 -8.2 0Z" fill="#70ae4e" stroke="#2b5519" stroke-width="1.1" stroke-linejoin="round"/><path d="M-7.2 0 L7.2 0" stroke="#2b5519" stroke-width="0.7" opacity="0.8"/></g>
<g transform="translate(328.3 301.3) rotate(16)"><path d="M-8.2 0 C-4.1 -6.8 3.3 -5.9 8.2 0 C3.3 5.9 -4.1 6.8 -8.2 0Z" fill="#70ae4e" stroke="#2b5519" stroke-width="1.1" stroke-linejoin="round"/><path d="M-7.2 0 L7.2 0" stroke="#2b5519" stroke-width="0.7" opacity="0.8"/></g>
<g transform="translate(334.8 310.8) rotate(-58)"><path d="M-6.5 0 C-3.2 -5.6 2.6 -4.9 6.5 0 C2.6 4.9 -3.2 5.6 -6.5 0Z" fill="#70ae4e" stroke="#2b5519" stroke-width="1.1" stroke-linejoin="round"/><path d="M-5.5 0 L5.5 0" stroke="#2b5519" stroke-width="0.7" opacity="0.8"/></g>
<g transform="translate(353.5 316.7) rotate(-110)"><path d="M-7.5 0 C-3.8 -6.4 3 -5.5 7.5 0 C3 5.5 -3.8 6.4 -7.5 0Z" fill="#70ae4e" stroke="#2b5519" stroke-width="1.1" stroke-linejoin="round"/><path d="M-6.5 0 L6.5 0" stroke="#2b5519" stroke-width="0.7" opacity="0.8"/></g>
<g transform="translate(366.9 319.4) rotate(-14)"><path d="M-8.8 0 C-4.4 -8.2 3.5 -7.2 8.8 0 C3.5 7.2 -4.4 8.2 -8.8 0Z" fill="#70ae4e" stroke="#2b5519" stroke-width="1.1" stroke-linejoin="round"/><path d="M-7.8 0 L7.8 0" stroke="#2b5519" stroke-width="0.7" opacity="0.8"/></g>
<g transform="translate(321.7 326.9) rotate(18)"><path d="M-8.8 0 C-4.4 -8.2 3.5 -7.2 8.8 0 C3.5 7.2 -4.4 8.2 -8.8 0Z" fill="#70ae4e" stroke="#2b5519" stroke-width="1.1" stroke-linejoin="round"/><path d="M-7.8 0 L7.8 0" stroke="#2b5519" stroke-width="0.7" opacity="0.8"/></g>
<g transform="translate(334.4 325.2) rotate(-80)"><path d="M-6.5 0 C-3.2 -5.6 2.6 -4.9 6.5 0 C2.6 4.9 -3.2 5.6 -6.5 0Z" fill="#70ae4e" stroke="#2b5519" stroke-width="1.1" stroke-linejoin="round"/><path d="M-5.5 0 L5.5 0" stroke="#2b5519" stroke-width="0.7" opacity="0.8"/></g>
<g transform="translate(360.8 332.1) rotate(28)"><path d="M-7.8 0 C-3.9 -7.9 3.1 -6.8 7.8 0 C3.1 6.8 -3.9 7.9 -7.8 0Z" fill="#70ae4e" stroke="#2b5519" stroke-width="1.1" stroke-linejoin="round"/><path d="M-6.8 0 L6.8 0" stroke="#2b5519" stroke-width="0.7" opacity="0.8"/></g>
<g transform="translate(327.1 341) rotate(-50)"><path d="M-8.5 0 C-4.2 -7.5 3.4 -6.5 8.5 0 C3.4 6.5 -4.2 7.5 -8.5 0Z" fill="#70ae4e" stroke="#2b5519" stroke-width="1.1" stroke-linejoin="round"/><path d="M-7.5 0 L7.5 0" stroke="#2b5519" stroke-width="0.7" opacity="0.8"/></g>
<circle cx="358.2" cy="301.3" r="1.7" fill="#cfe6b0" stroke="#2b5519" stroke-width="0.8"/><circle cx="361" cy="302.5" r="1.5" fill="#cfe6b0" stroke="#2b5519" stroke-width="0.8"/>
<!-- 31_treeroots.py -->
<g transform="translate(490 355) scale(0.10902)" fill="none" stroke-linecap="round" stroke-linejoin="round">
<path d="M400 190 C350 205 250 215 140 235 M300 270 C290 290 285 305 282 320 M260 225 C230 260 200 290 175 305 M300 380 C270 400 230 410 200 430 M420 300 C430 340 425 370 415 405 M330 390 C320 420 310 450 300 470 M440 470 C400 510 370 540 350 580 M470 440 C480 500 475 560 470 625 M500 400 C510 450 520 490 535 510 M640 560 C650 590 660 600 660 612 M610 430 C600 470 610 500 625 530 M720 460 C710 480 705 495 695 505 M840 400 C880 430 940 450 970 465 M760 340 C790 420 785 520 790 600 M840 400 C870 430 885 470 890 505 M850 200 C910 195 960 200 1020 205 M990 310 C1030 300 1060 295 1100 285 M990 310 C1040 340 1060 390 1095 415 M800 370 C810 410 815 440 812 465" stroke="#5e3a1e" stroke-width="14"/>
<path d="M630 125 C560 150 480 170 400 190 C350 205 320 235 300 270 M630 125 C580 200 520 250 470 300 C420 330 350 340 300 380 M620 130 C600 200 540 240 550 320 C540 380 480 420 440 470 M640 130 C640 220 600 300 620 380 C640 450 600 500 640 560 M650 130 C700 180 720 220 720 280 C740 340 800 360 840 400 M660 125 C720 160 800 170 850 200 C900 250 920 290 990 310 M720 280 C780 270 850 290 880 350 C900 400 920 440 960 460" stroke="#4a2c16" stroke-width="36"/>
<path d="M600 112 L670 112 L655 175 L625 175Z" fill="#4a2c16" stroke="#4a2c16" stroke-width="14"/>
<path d="M630 125 C560 150 480 170 400 190 C350 205 320 235 300 270 M630 125 C580 200 520 250 470 300 C420 330 350 340 300 380 M620 130 C600 200 540 240 550 320 C540 380 480 420 440 470 M640 130 C640 220 600 300 620 380 C640 450 600 500 640 560 M650 130 C700 180 720 220 720 280 C740 340 800 360 840 400 M660 125 C720 160 800 170 850 200 C900 250 920 290 990 310 M720 280 C780 270 850 290 880 350 C900 400 920 440 960 460" stroke="#d8b692" stroke-width="20"/>
<path d="M605 114 L665 114 L652 170 L627 170Z" fill="#d8b692" stroke="#d8b692" stroke-width="6"/>
</g>
<!-- 35_animals.py -->
<g transform="translate(665 295) scale(0.08465)" stroke-linejoin="round" stroke-linecap="round">
<path d="M238 272 C232 220 250 150 282 125 C305 140 300 200 292 270Z" fill="#8f7d6a" stroke="#3a2f22" stroke-width="15.4"/>
<path d="M125 390 C130 350 160 310 200 290 C230 272 270 270 300 285 C320 300 325 340 340 356 C400 350 480 355 540 385 C600 420 640 480 650 535 C672 530 690 548 684 575 C680 605 660 625 630 630 C620 650 600 662 580 668 L420 682 C395 684 380 668 392 652 C400 640 420 635 440 630 C420 620 395 605 370 598 C350 598 335 620 320 650 C310 670 300 680 280 682 L240 682 C218 680 215 655 232 645 C250 636 265 632 275 622 C240 580 205 530 190 470 C185 455 180 445 172 436 C150 436 128 420 125 390Z" fill="#b8a28a" stroke="#3a2f22" stroke-width="15.4"/>
<path d="M288 278 C285 220 310 150 352 130 C378 140 372 200 350 250 C340 275 330 290 322 305Z" fill="#b8a28a" stroke="#3a2f22" stroke-width="15.4"/>
<path d="M303 262 C303 220 322 170 348 152 C358 170 350 210 336 245 C328 262 318 275 312 282Z" fill="#f1bcbc"/>
<path d="M522 465 C470 465 430 500 432 545 C434 585 455 612 490 632 M180 412 C200 420 225 425 240 420 M605 590 C620 600 630 610 632 628" fill="none" stroke="#3a2f22" stroke-width="12.3"/>
<ellipse cx="218" cy="341" rx="15" ry="17" fill="#2a1f18"/>
<ellipse cx="615" cy="580" rx="22" ry="28" fill="#c99a90" opacity="0.5"/>
</g>
<g transform="translate(720 275) scale(0.11324)" stroke-linejoin="round" stroke-linecap="round">
<path d="M1030 170 C1050 220 1048 330 1046 400 C1060 430 1085 455 1082 490 C1080 520 1072 540 1064 548 C1050 520 1035 480 1030 430 C1030 340 1030 250 1018 190Z" fill="#595551" stroke="#2e2a26" stroke-width="12.4"/>
<path d="M395 470 C400 540 410 600 405 650 L372 668 C362 680 372 690 392 690 L440 686 C446 620 446 540 450 470Z" fill="#e4e0da" stroke="#2e2a26" stroke-width="12.4"/>
<path d="M880 470 C905 520 895 580 870 640 L838 652 C826 668 838 682 862 682 L905 676 C920 620 945 560 940 480Z" fill="#e6dcd8" stroke="#2e2a26" stroke-width="12.4"/>
<path d="M372 668 C362 680 372 690 392 690 L440 686 L440 664 C420 656 395 656 372 668Z M838 652 C826 668 838 682 862 682 L905 676 L903 654 C880 644 858 644 838 652Z" fill="#4c4a48" stroke="#2e2a26" stroke-width="9.9"/>
<path d="M772 440 C790 400 860 385 900 420 C925 445 920 480 905 498 L885 488 L880 515 L860 500 L850 522 L835 500 L815 515 L812 488 C795 480 780 462 772 440Z" fill="#f2b6bb" stroke="#2e2a26" stroke-width="9.9"/>
<clipPath id="cowc"><path d="M65 262 C62 240 72 225 88 210 C100 180 112 150 125 125 C110 128 92 120 88 105 C100 95 125 95 142 102 C140 90 138 80 135 72 C148 72 156 80 160 90 C185 75 225 78 248 96 L252 118 C275 100 305 95 332 103 C330 112 326 120 320 128 C420 122 520 138 640 135 C740 132 860 118 960 124 C1015 128 1050 170 1048 230 C1046 300 1020 360 1005 410 C1020 470 1022 540 1010 600 L1004 672 C1012 690 1000 706 975 708 L948 706 C932 700 932 684 945 672 L962 650 C968 590 960 540 935 490 C905 450 880 420 850 395 C800 430 760 450 700 468 C640 478 580 462 528 452 C522 520 510 600 494 668 C498 690 488 706 462 710 L432 708 C415 700 415 684 428 674 L446 655 C440 590 432 530 425 475 C380 465 330 420 300 370 C280 335 262 300 232 280 C200 290 170 292 150 288 C130 296 110 300 95 292 C78 290 68 278 65 262Z"/></clipPath>
<path d="M65 262 C62 240 72 225 88 210 C100 180 112 150 125 125 C110 128 92 120 88 105 C100 95 125 95 142 102 C140 90 138 80 135 72 C148 72 156 80 160 90 C185 75 225 78 248 96 L252 118 C275 100 305 95 332 103 C330 112 326 120 320 128 C420 122 520 138 640 135 C740 132 860 118 960 124 C1015 128 1050 170 1048 230 C1046 300 1020 360 1005 410 C1020 470 1022 540 1010 600 L1004 672 C1012 690 1000 706 975 708 L948 706 C932 700 932 684 945 672 L962 650 C968 590 960 540 935 490 C905 450 880 420 850 395 C800 430 760 450 700 468 C640 478 580 462 528 452 C522 520 510 600 494 668 C498 690 488 706 462 710 L432 708 C415 700 415 684 428 674 L446 655 C440 590 432 530 425 475 C380 465 330 420 300 370 C280 335 262 300 232 280 C200 290 170 292 150 288 C130 296 110 300 95 292 C78 290 68 278 65 262Z" fill="#f5f3ef"/>
<g clip-path="url(#cowc)">
<path d="M520 400 C600 430 720 420 850 370 L880 420 L700 480 L520 470Z" fill="#d5d0c8"/>
<path d="M125 125 C135 150 140 180 142 215 C145 250 150 275 158 290 L235 282 C262 300 285 340 320 378 C350 400 372 380 390 368 C420 372 450 405 470 395 C480 360 520 340 505 300 C490 268 440 290 432 250 C428 210 460 160 432 128 L330 122 L300 150 L262 140 L250 110 C230 100 215 95 205 100 C170 110 150 160 140 215Z" fill="#595551"/>
<path d="M545 170 C570 140 660 150 700 145 C760 140 810 140 828 175 C840 220 810 240 790 255 C770 270 765 310 740 330 C715 340 700 315 670 318 C640 322 620 345 600 335 C575 320 590 280 580 250 C570 220 535 205 545 170Z" fill="#595551"/>
<path d="M925 130 C960 150 975 175 950 195 C915 200 890 215 898 250 C905 280 950 275 962 300 C970 330 975 360 1000 365 L1060 300 L1060 150 L1000 110Z" fill="#595551"/>
<ellipse cx="862" cy="303" rx="33" ry="30" fill="#595551" transform="rotate(25 862 303)"/>
<path d="M85 100 L145 100 L130 130 L95 125Z" fill="#595551"/>
<path d="M70 240 C75 225 95 225 110 235 C125 250 120 280 100 292 C80 292 66 270 70 240Z" fill="#f3c6c8"/>
<path d="M440 655 L500 650 L498 715 L415 715 L420 680Z M950 660 L1010 655 L1012 715 L930 715 L935 685Z" fill="#4c4a48"/>
</g>
<path d="M65 262 C62 240 72 225 88 210 C100 180 112 150 125 125 C110 128 92 120 88 105 C100 95 125 95 142 102 C140 90 138 80 135 72 C148 72 156 80 160 90 C185 75 225 78 248 96 L252 118 C275 100 305 95 332 103 C330 112 326 120 320 128 C420 122 520 138 640 135 C740 132 860 118 960 124 C1015 128 1050 170 1048 230 C1046 300 1020 360 1005 410 C1020 470 1022 540 1010 600 L1004 672 C1012 690 1000 706 975 708 L948 706 C932 700 932 684 945 672 L962 650 C968 590 960 540 935 490 C905 450 880 420 850 395 C800 430 760 450 700 468 C640 478 580 462 528 452 C522 520 510 600 494 668 C498 690 488 706 462 710 L432 708 C415 700 415 684 428 674 L446 655 C440 590 432 530 425 475 C380 465 330 420 300 370 C280 335 262 300 232 280 C200 290 170 292 150 288 C130 296 110 300 95 292 C78 290 68 278 65 262Z" fill="none" stroke="#2e2a26" stroke-width="12.4"/>
<path d="M428 470 C440 500 445 560 446 655 M525 400 C528 420 530 440 528 452 M252 118 C262 135 280 150 300 150 C312 145 318 136 320 128 M170 178 C182 184 195 182 205 175 M1005 410 C990 440 970 470 935 490" fill="none" stroke="#2e2a26" stroke-width="9.9"/>
<path d="M262 128 C275 118 300 112 318 115 C310 130 295 142 280 142Z" fill="#6b6763"/>
<ellipse cx="98" cy="258" rx="10" ry="7" fill="#8a4a50"/>
</g>
<!-- 36_corn.py -->
<g transform="translate(865 250) scale(0.20833)">
<path d="M102 534.2 Q93.5 557.4 87.3 580.6 M87.3 580.6 q2.4 10.5 -13 14.5 M84.6 539.9 Q100.9 562 104.7 584 M104.7 584 q-8 8.1 7.1 17.7 M67.1 545.6 Q69.2 576.3 93.8 607 M93.8 607 q-7.6 8.8 14.1 20.1 M120.3 551.6 Q111.8 573.7 103.6 595.8 M103.6 595.8 q-4.3 6.6 -9 21.4 M109.5 564.2 Q111.3 578.6 96.9 593 M96.9 593 q0.9 9.5 -10.1 29.9 M98.7 576.8 Q105.5 593.1 120.3 609.3 M120.3 609.3 q3.5 10 14 20.8 M140.1 574.5 Q151.1 604.8 145.4 635.2 M145.4 635.2 q0.1 9.1 -14.9 17.9 M136.5 596.3 Q137.6 618 154.4 639.6 M154.4 639.6 q0.8 9.9 5.6 20 M132.9 618.1 Q137.8 641.5 129.3 664.9 M129.3 664.9 q0.3 7.8 -0.3 14.5 M163.2 557.2 Q158.1 578.5 168.8 599.8 M168.8 599.8 q0 11.9 8.7 22.6 M168 572.1 Q179.1 590.4 189.6 608.7 M189.6 608.7 q7.2 9 -1.3 18.3 M172.8 587 Q162.4 618.7 175.7 650.4 M175.7 650.4 q4.5 10.7 12.4 25.8 M182.2 559.1 Q188.9 574.1 177.8 589.2 M177.8 589.2 q1.1 6.4 0.2 21.8 M194 574.7 Q190.6 595.1 185.4 615.5 M185.4 615.5 q2 9.3 -1.3 14.4 M205.7 590.4 Q199.6 607.6 189.5 624.9 M189.5 624.9 q5.8 10.6 9.5 27.1 M198.1 535.2 Q174 549.5 173.1 563.8 M173.1 563.8 q4.1 6.7 -12.5 24 M215.6 541.2 Q202.8 556.5 206.3 571.8 M206.3 571.8 q0.4 6.2 -7.3 25.4 M233.1 547.3 Q231.1 567.2 230.4 587.2 M230.4 587.2 q-7.6 7.7 -2.5 17 " fill="none" stroke="#553419" stroke-width="5.8" stroke-linecap="round"/><path d="M150 520 C102 521.6 89.8 537.4 62.8 551.7 M150 520 C120.3 523.5 100.1 558.6 96 590.2 M150 520 C140.1 526.1 132.6 586.6 132.1 641.1 M150 520 C163.2 524.1 177.7 565.5 174 602.8 M150 520 C182.2 524.3 195.2 567.8 208.6 606.9 M150 520 C198.1 521.7 219.1 538.5 237.5 553.7 " fill="none" stroke="#553419" stroke-width="13.8" stroke-linecap="round"/><path d="M150 520 C102 521.6 89.8 537.4 62.8 551.7 M150 520 C120.3 523.5 100.1 558.6 96 590.2 M150 520 C140.1 526.1 132.6 586.6 132.1 641.1 M150 520 C163.2 524.1 177.7 565.5 174 602.8 M150 520 C182.2 524.3 195.2 567.8 208.6 606.9 M150 520 C198.1 521.7 219.1 538.5 237.5 553.7 " fill="none" stroke="#e9d6b4" stroke-width="6.9" stroke-linecap="round"/><path d="M245.9 547.6 Q239.1 577 221 606.5 M221 606.5 q2.7 7.2 3.4 23.7 M219.6 557.8 Q220.4 574.7 224.5 591.7 M224.5 591.7 q-1.7 10.1 15.8 29.2 M193.4 568 Q189.2 590.3 196.1 612.5 M196.1 612.5 q-7.4 5.2 -1.1 19.1 M268.7 564.7 Q259.1 583.1 272.3 601.5 M272.3 601.5 q-2.8 6 0.3 30 M250.8 581.8 Q265.5 599.2 261.3 616.6 M261.3 616.6 q4.7 10.1 13 26.2 M232.9 598.9 Q253.1 619.5 250.2 640 M250.2 640 q7.4 6.1 8.1 25.4 M304 580.4 Q324.8 603.7 329.5 626.9 M329.5 626.9 q-2.3 11.2 12.8 21.4 M299 603.8 Q306.4 634.8 303 665.8 M303 665.8 q-0.2 6.6 -5.6 25.2 M293.9 627.1 Q278.3 657.9 273.9 688.7 M273.9 688.7 q6.6 7.2 14.6 25.3 M336.4 580.5 Q332.1 600.3 341.7 620 M341.7 620 q0.2 11.5 3.9 15.2 M343.1 603.9 Q362.5 631.3 362.4 658.8 M362.4 658.8 q-4.9 10.2 -14.1 24.4 M349.8 627.3 Q352 645.5 336.2 663.7 M336.2 663.7 q-6.3 8.7 11.3 17.9 M369.9 559.4 Q373.1 574 383 588.6 M383 588.6 q-5.2 9.7 -13.3 29.3 M388.8 574.4 Q363.1 601.9 360.4 629.4 M360.4 629.4 q-3.9 10.7 -11 16.9 M407.7 589.4 Q402.5 610.5 419.2 631.6 M419.2 631.6 q7.8 6.1 -14.8 19.5 M386.8 544.4 Q380.7 558.9 377.1 573.5 M377.1 573.5 q4.3 10.2 12.9 26.1 M411.9 553.3 Q422.1 580.3 433.6 607.4 M433.6 607.4 q-4.4 9.6 -5.9 15.6 M436.9 562.2 Q426.4 592.4 433.8 622.6 M433.8 622.6 q1.4 7.8 0.5 16.3 " fill="none" stroke="#553419" stroke-width="5.8" stroke-linecap="round"/><path d="M318 522 C245.9 524.8 210.8 553.3 186.8 578.8 M318 522 C268.7 526.7 251.3 574.2 228.4 617 M318 522 C304 528.5 298.8 593.4 292.6 651.8 M318 522 C336.4 528.5 346.2 593.5 351.5 652 M318 522 C369.9 526.2 387.3 567.7 412.4 605.2 M318 522 C386.8 524.5 404.1 549.3 443.2 571.7 " fill="none" stroke="#553419" stroke-width="13.8" stroke-linecap="round"/><path d="M318 522 C245.9 524.8 210.8 553.3 186.8 578.8 M318 522 C268.7 526.7 251.3 574.2 228.4 617 M318 522 C304 528.5 298.8 593.4 292.6 651.8 M318 522 C336.4 528.5 346.2 593.5 351.5 652 M318 522 C369.9 526.2 387.3 567.7 412.4 605.2 M318 522 C386.8 524.5 404.1 549.3 443.2 571.7 " fill="none" stroke="#e9d6b4" stroke-width="6.9" stroke-linecap="round"/><path d="M416.8 535.7 Q409.5 561.2 423 586.8 M423 586.8 q-7.8 10.9 -7.7 17.7 M397.4 541.9 Q420.4 564.6 427.2 587.3 M427.2 587.3 q-0.4 9.5 -11.2 24.2 M378.1 548.2 Q394.9 571.9 400.1 595.5 M400.1 595.5 q2.7 5.4 8.3 23.5 M438.2 554.3 Q446.5 581.6 436.6 608.9 M436.6 608.9 q3.4 11.4 -3.4 26.8 M426.7 568 Q434.1 599.3 423.3 630.6 M423.3 630.6 q-6.4 6 -9.1 29.4 M415.1 581.7 Q408.4 607.3 411.3 632.9 M411.3 632.9 q0.1 7.7 -4.8 23.4 M457.4 571.4 Q482.1 601.2 483.2 631.1 M483.2 631.1 q2.7 6.1 11.5 29.4 M452.9 591.9 Q470.1 616.5 477.1 641 M477.1 641 q-4.6 10.8 2.4 18.6 M448.3 612.5 Q446.9 642.3 422.1 672.1 M422.1 672.1 q-6.6 10.6 -2.9 16.4 M486.1 564.2 Q461.5 589.6 458.8 614.9 M458.8 614.9 q3.5 7.3 12.2 29.7 M492 581.9 Q487.6 614.4 492.3 646.8 M492.3 646.8 q-6.8 9.2 -15 17.2 M497.8 599.6 Q486.8 624.9 492.3 650.2 M492.3 650.2 q-7.3 11.1 -6 29.3 M507.2 562.1 Q510.1 588 508.4 613.9 M508.4 613.9 q0.9 9.3 14.1 22.1 M520.8 579 Q512.4 606.3 516.6 633.6 M516.6 633.6 q-3.2 11.8 0.7 22.8 M534.3 595.8 Q521.5 617.5 505 639.2 M505 639.2 q-7.7 9.3 4.2 15 M522.3 538.7 Q523.6 565.8 513.5 592.9 M513.5 592.9 q-7.6 5.4 5.6 29.4 M541.4 546.2 Q536.1 568.7 526.4 591.1 M526.4 591.1 q-2.9 7.5 -6 19.9 M560.4 553.7 Q560.3 573.3 566.2 592.8 M566.2 592.8 q4.4 5.2 2.2 25.8 " fill="none" stroke="#553419" stroke-width="5.8" stroke-linecap="round"/><path d="M470 520 C416.8 521.7 394.8 539.1 373.2 554.8 M470 520 C438.2 523.8 434 561.9 412.2 596.2 M470 520 C457.4 525.7 456.5 582.8 447.1 634.2 M470 520 C486.1 524.9 499.4 574 499.3 618.2 M470 520 C507.2 524.7 520 571.5 537.7 613.6 M470 520 C522.3 522.1 545 542.9 565.2 561.6 " fill="none" stroke="#553419" stroke-width="13.8" stroke-linecap="round"/><path d="M470 520 C416.8 521.7 394.8 539.1 373.2 554.8 M470 520 C438.2 523.8 434 561.9 412.2 596.2 M470 520 C457.4 525.7 456.5 582.8 447.1 634.2 M470 520 C486.1 524.9 499.4 574 499.3 618.2 M470 520 C507.2 524.7 520 571.5 537.7 613.6 M470 520 C522.3 522.1 545 542.9 565.2 561.6 " fill="none" stroke="#e9d6b4" stroke-width="6.9" stroke-linecap="round"/>
<path d="M605 207.9 Q605 180 605 161.4" fill="none" stroke="#8a7433" stroke-width="7.1" stroke-linecap="round"/><path d="M605 207.9 Q602.4 187.4 596.3 173.8" fill="none" stroke="#8a7433" stroke-width="7.1" stroke-linecap="round"/><path d="M605 207.9 Q607.6 186.3 613.7 171.9" fill="none" stroke="#8a7433" stroke-width="7.1" stroke-linecap="round"/><path d="M605 207.9 Q600.2 196 588.9 188.1" fill="none" stroke="#8a7433" stroke-width="7.1" stroke-linecap="round"/><path d="M605 207.9 Q609.8 194.5 621.1 185.6" fill="none" stroke="#8a7433" stroke-width="7.1" stroke-linecap="round"/><path d="M605 207.9 Q603.5 183.3 600 167" fill="none" stroke="#8a7433" stroke-width="7.1" stroke-linecap="round"/><path d="M605 207.9 Q606.7 182.6 610.6 165.7" fill="none" stroke="#8a7433" stroke-width="7.1" stroke-linecap="round"/><path d="M605 207.9 Q605 180 605 161.4" fill="none" stroke="#dcc57e" stroke-width="3.9" stroke-linecap="round"/><path d="M605 207.9 Q602.4 187.4 596.3 173.8" fill="none" stroke="#dcc57e" stroke-width="3.9" stroke-linecap="round"/><path d="M605 207.9 Q607.6 186.3 613.7 171.9" fill="none" stroke="#dcc57e" stroke-width="3.9" stroke-linecap="round"/><path d="M605 207.9 Q600.2 196 588.9 188.1" fill="none" stroke="#dcc57e" stroke-width="3.9" stroke-linecap="round"/><path d="M605 207.9 Q609.8 194.5 621.1 185.6" fill="none" stroke="#dcc57e" stroke-width="3.9" stroke-linecap="round"/><path d="M605 207.9 Q603.5 183.3 600 167" fill="none" stroke="#dcc57e" stroke-width="3.9" stroke-linecap="round"/><path d="M605 207.9 Q606.7 182.6 610.6 165.7" fill="none" stroke="#dcc57e" stroke-width="3.9" stroke-linecap="round"/><path d="M605 468.1 C598.7 450.3 579.7 437.2 562.8 458.6 C574.6 452.9 590.2 471.1 605 484.6 Z" fill="#8bc45c" stroke="#2c561b" stroke-width="5.8" stroke-linejoin="round"/><path d="M605 455.5 C612.1 433.9 633.3 418.4 652.1 443.6 C638.9 435.6 621.5 456.3 605 472 Z" fill="#8bc45c" stroke="#2c561b" stroke-width="5.8" stroke-linejoin="round"/><path d="M605 423.7 C595 389.4 564.8 365.2 538 417 C556.8 388.7 581.6 418.8 605 442.6 Z" fill="#8bc45c" stroke="#2c561b" stroke-width="5.8" stroke-linejoin="round"/><path d="M605 408 C615.2 371.8 645.9 346.4 673.2 401.3 C654.1 370.6 628.9 402 605 426.8 Z" fill="#8bc45c" stroke="#2c561b" stroke-width="5.8" stroke-linejoin="round"/><path d="M605 373.3 C594 332.5 561.1 304 531.8 366.6 C552.3 330 579.4 364.5 605 392.2 Z" fill="#8bc45c" stroke="#2c561b" stroke-width="5.8" stroke-linejoin="round"/><path d="M605 357.6 C615.6 316.8 647.4 288.2 675.7 347.1 C655.9 314.3 629.7 348.8 605 376.4 Z" fill="#8bc45c" stroke="#2c561b" stroke-width="5.8" stroke-linejoin="round"/><path d="M605 323 C595.3 282.1 566.3 253.6 540.5 300.1 C558.6 279.1 582.4 313.2 605 340.7 Z" fill="#8bc45c" stroke="#2c561b" stroke-width="5.8" stroke-linejoin="round"/><path d="M605 307.4 C613.6 261.7 639.2 230.1 662 257.1 C646.1 256.9 625 293.7 605 323.9 Z" fill="#8bc45c" stroke="#2c561b" stroke-width="5.8" stroke-linejoin="round"/><path d="M605 279.2 C599.2 234.3 581.9 203.3 566.6 221.9 C577.3 229.2 591.5 265 605 294.5 Z" fill="#8bc45c" stroke="#2c561b" stroke-width="5.8" stroke-linejoin="round"/><path d="M605 263.6 C609.8 220.9 624.3 191.4 637.2 206.2 C628.2 215.8 616.3 249.7 605 277.7 Z" fill="#8bc45c" stroke="#2c561b" stroke-width="5.8" stroke-linejoin="round"/><path d="M600 495 L602.8 211 L607.2 211 L610 495 Z" fill="#7dba50" stroke="#2c561b" stroke-width="5.8" stroke-linejoin="round"/>
<path d="M150 133.2 Q150 95 150 69.5" fill="none" stroke="#8a7433" stroke-width="9.8" stroke-linecap="round"/><path d="M150 133.2 Q146.4 105.2 138.1 86.5" fill="none" stroke="#8a7433" stroke-width="9.8" stroke-linecap="round"/><path d="M150 133.2 Q153.6 103.7 161.9 84" fill="none" stroke="#8a7433" stroke-width="9.8" stroke-linecap="round"/><path d="M150 133.2 Q143.4 116.9 127.9 106" fill="none" stroke="#8a7433" stroke-width="9.8" stroke-linecap="round"/><path d="M150 133.2 Q156.6 114.9 172.1 102.7" fill="none" stroke="#8a7433" stroke-width="9.8" stroke-linecap="round"/><path d="M150 133.2 Q148 99.6 143.2 77.2" fill="none" stroke="#8a7433" stroke-width="9.8" stroke-linecap="round"/><path d="M150 133.2 Q152.3 98.6 157.7 75.5" fill="none" stroke="#8a7433" stroke-width="9.8" stroke-linecap="round"/><path d="M150 133.2 Q150 95 150 69.5" fill="none" stroke="#dcc57e" stroke-width="5.4" stroke-linecap="round"/><path d="M150 133.2 Q146.4 105.2 138.1 86.5" fill="none" stroke="#dcc57e" stroke-width="5.4" stroke-linecap="round"/><path d="M150 133.2 Q153.6 103.7 161.9 84" fill="none" stroke="#dcc57e" stroke-width="5.4" stroke-linecap="round"/><path d="M150 133.2 Q143.4 116.9 127.9 106" fill="none" stroke="#dcc57e" stroke-width="5.4" stroke-linecap="round"/><path d="M150 133.2 Q156.6 114.9 172.1 102.7" fill="none" stroke="#dcc57e" stroke-width="5.4" stroke-linecap="round"/><path d="M150 133.2 Q148 99.6 143.2 77.2" fill="none" stroke="#dcc57e" stroke-width="5.4" stroke-linecap="round"/><path d="M150 133.2 Q152.3 98.6 157.7 75.5" fill="none" stroke="#dcc57e" stroke-width="5.4" stroke-linecap="round"/><path d="M150 479 C141.3 454.6 115.3 436.8 92.2 466.1 C108.4 458.2 129.8 483.2 150 501.6 Z" fill="#8bc45c" stroke="#2c561b" stroke-width="5.8" stroke-linejoin="round"/><path d="M150 462.2 C159.7 432.7 188.8 411.5 214.6 445.9 C196.5 434.9 172.6 463.3 150 484.8 Z" fill="#8bc45c" stroke="#2c561b" stroke-width="5.8" stroke-linejoin="round"/><path d="M150 419.9 C136.2 372.9 94.9 339.7 58.2 410.7 C83.9 371.9 117.9 413.2 150 445.7 Z" fill="#8bc45c" stroke="#2c561b" stroke-width="5.8" stroke-linejoin="round"/><path d="M150 398.9 C164 349.3 206.1 314.5 243.5 389.7 C217.3 347.6 182.7 390.6 150 424.7 Z" fill="#8bc45c" stroke="#2c561b" stroke-width="5.8" stroke-linejoin="round"/><path d="M150 352.7 C135 296.8 89.8 257.6 49.7 343.5 C77.8 293.3 114.9 340.6 150 378.5 Z" fill="#8bc45c" stroke="#2c561b" stroke-width="5.8" stroke-linejoin="round"/><path d="M150 331.7 C164.5 275.8 208.1 236.6 246.9 317.4 C219.8 272.3 183.9 319.6 150 357.5 Z" fill="#8bc45c" stroke="#2c561b" stroke-width="5.8" stroke-linejoin="round"/><path d="M150 285.6 C136.7 229.5 97 190.4 61.6 254.2 C86.4 225.4 119.1 272.1 150 309.9 Z" fill="#8bc45c" stroke="#2c561b" stroke-width="5.8" stroke-linejoin="round"/><path d="M150 264.8 C161.7 202.2 196.9 158.8 228.2 195.8 C206.3 195.5 177.4 246 150 287.4 Z" fill="#8bc45c" stroke="#2c561b" stroke-width="5.8" stroke-linejoin="round"/><path d="M150 227.2 C142.1 165.6 118.4 123.1 97.3 148.6 C112.1 158.6 131.6 207.7 150 248.2 Z" fill="#8bc45c" stroke="#2c561b" stroke-width="5.8" stroke-linejoin="round"/><path d="M150 206.4 C156.6 147.8 176.5 107.5 194.2 127.7 C181.8 140.9 165.5 187.4 150 225.7 Z" fill="#8bc45c" stroke="#2c561b" stroke-width="5.8" stroke-linejoin="round"/><path d="M143.2 515 L147 137.5 L153 137.5 L156.8 515 Z" fill="#7dba50" stroke="#2c561b" stroke-width="5.8" stroke-linejoin="round"/>
<path d="M470 114.8 Q470 72 470 43.5" fill="none" stroke="#8a7433" stroke-width="10.9" stroke-linecap="round"/><path d="M470 114.8 Q466 83.4 456.7 62.5" fill="none" stroke="#8a7433" stroke-width="10.9" stroke-linecap="round"/><path d="M470 114.8 Q474 81.7 483.3 59.7" fill="none" stroke="#8a7433" stroke-width="10.9" stroke-linecap="round"/><path d="M470 114.8 Q462.6 96.5 445.3 84.3" fill="none" stroke="#8a7433" stroke-width="10.9" stroke-linecap="round"/><path d="M470 114.8 Q477.4 94.2 494.7 80.6" fill="none" stroke="#8a7433" stroke-width="10.9" stroke-linecap="round"/><path d="M470 114.8 Q467.7 77.1 462.4 52.1" fill="none" stroke="#8a7433" stroke-width="10.9" stroke-linecap="round"/><path d="M470 114.8 Q472.6 76 478.6 50.2" fill="none" stroke="#8a7433" stroke-width="10.9" stroke-linecap="round"/><path d="M470 114.8 Q470 72 470 43.5" fill="none" stroke="#dcc57e" stroke-width="6" stroke-linecap="round"/><path d="M470 114.8 Q466 83.4 456.7 62.5" fill="none" stroke="#dcc57e" stroke-width="6" stroke-linecap="round"/><path d="M470 114.8 Q474 81.7 483.3 59.7" fill="none" stroke="#dcc57e" stroke-width="6" stroke-linecap="round"/><path d="M470 114.8 Q462.6 96.5 445.3 84.3" fill="none" stroke="#dcc57e" stroke-width="6" stroke-linecap="round"/><path d="M470 114.8 Q477.4 94.2 494.7 80.6" fill="none" stroke="#dcc57e" stroke-width="6" stroke-linecap="round"/><path d="M470 114.8 Q467.7 77.1 462.4 52.1" fill="none" stroke="#dcc57e" stroke-width="6" stroke-linecap="round"/><path d="M470 114.8 Q472.6 76 478.6 50.2" fill="none" stroke="#dcc57e" stroke-width="6" stroke-linecap="round"/><path d="M470 476.9 C460.3 449.6 431.2 429.7 405.4 462.5 C423.5 453.6 447.4 481.6 470 502.2 Z" fill="#8bc45c" stroke="#2c561b" stroke-width="5.8" stroke-linejoin="round"/><path d="M470 459.2 C480.8 426.2 513.3 402.5 542.2 440.9 C522 428.7 495.3 460.4 470 484.5 Z" fill="#8bc45c" stroke="#2c561b" stroke-width="5.8" stroke-linejoin="round"/><path d="M470 414.5 C454.6 362 408.4 324.9 367.4 404.2 C396.1 360.8 434.1 407 470 443.4 Z" fill="#8bc45c" stroke="#2c561b" stroke-width="5.8" stroke-linejoin="round"/><path d="M470 392.3 C485.7 337 532.7 298 574.5 382.1 C545.2 335.1 506.6 383.1 470 421.2 Z" fill="#8bc45c" stroke="#2c561b" stroke-width="5.8" stroke-linejoin="round"/><path d="M470 343.6 C453.2 281.1 402.7 237.4 357.9 333.4 C389.3 277.3 430.8 330.1 470 372.5 Z" fill="#8bc45c" stroke="#2c561b" stroke-width="5.8" stroke-linejoin="round"/><path d="M470 321.5 C486.2 259 535 215.3 578.3 305.5 C548 255.2 507.9 308 470 350.3 Z" fill="#8bc45c" stroke="#2c561b" stroke-width="5.8" stroke-linejoin="round"/><path d="M470 272.9 C455.2 210.2 410.7 166.5 371.2 237.8 C398.9 205.6 435.4 257.8 470 300 Z" fill="#8bc45c" stroke="#2c561b" stroke-width="5.8" stroke-linejoin="round"/><path d="M470 251 C483.1 181 522.4 132.5 557.4 173.8 C532.9 173.5 500.6 230 470 276.2 Z" fill="#8bc45c" stroke="#2c561b" stroke-width="5.8" stroke-linejoin="round"/><path d="M470 211.3 C461.2 142.5 434.7 95 411.1 123.5 C427.6 134.6 449.4 189.5 470 234.8 Z" fill="#8bc45c" stroke="#2c561b" stroke-width="5.8" stroke-linejoin="round"/><path d="M470 189.3 C477.4 123.9 499.6 78.8 519.4 101.4 C505.6 116.1 487.3 168.1 470 211 Z" fill="#8bc45c" stroke="#2c561b" stroke-width="5.8" stroke-linejoin="round"/><path d="M462.4 515 L466.7 119.5 L473.3 119.5 L477.6 515 Z" fill="#7dba50" stroke="#2c561b" stroke-width="5.8" stroke-linejoin="round"/>
<path d="M318 82.2 Q318 35 318 3.5" fill="none" stroke="#8a7433" stroke-width="12.1" stroke-linecap="round"/><path d="M318 82.2 Q313.6 47.6 303.3 24.5" fill="none" stroke="#8a7433" stroke-width="12.1" stroke-linecap="round"/><path d="M318 82.2 Q322.4 45.7 332.7 21.3" fill="none" stroke="#8a7433" stroke-width="12.1" stroke-linecap="round"/><path d="M318 82.2 Q309.8 62.1 290.7 48.6" fill="none" stroke="#8a7433" stroke-width="12.1" stroke-linecap="round"/><path d="M318 82.2 Q326.2 59.6 345.3 44.4" fill="none" stroke="#8a7433" stroke-width="12.1" stroke-linecap="round"/><path d="M318 82.2 Q315.5 40.7 309.6 13" fill="none" stroke="#8a7433" stroke-width="12.1" stroke-linecap="round"/><path d="M318 82.2 Q320.8 39.4 327.4 10.8" fill="none" stroke="#8a7433" stroke-width="12.1" stroke-linecap="round"/><path d="M318 82.2 Q318 35 318 3.5" fill="none" stroke="#dcc57e" stroke-width="6.7" stroke-linecap="round"/><path d="M318 82.2 Q313.6 47.6 303.3 24.5" fill="none" stroke="#dcc57e" stroke-width="6.7" stroke-linecap="round"/><path d="M318 82.2 Q322.4 45.7 332.7 21.3" fill="none" stroke="#dcc57e" stroke-width="6.7" stroke-linecap="round"/><path d="M318 82.2 Q309.8 62.1 290.7 48.6" fill="none" stroke="#dcc57e" stroke-width="6.7" stroke-linecap="round"/><path d="M318 82.2 Q326.2 59.6 345.3 44.4" fill="none" stroke="#dcc57e" stroke-width="6.7" stroke-linecap="round"/><path d="M318 82.2 Q315.5 40.7 309.6 13" fill="none" stroke="#dcc57e" stroke-width="6.7" stroke-linecap="round"/><path d="M318 82.2 Q320.8 39.4 327.4 10.8" fill="none" stroke="#dcc57e" stroke-width="6.7" stroke-linecap="round"/><path d="M318 478.3 C307.3 448.1 275.2 426.1 246.6 462.3 C266.6 452.5 293 483.4 318 506.2 Z" fill="#8bc45c" stroke="#2c561b" stroke-width="5.8" stroke-linejoin="round"/><path d="M318 458.9 C330 422.4 365.9 396.2 397.8 438.7 C375.5 425.2 345.9 460.2 318 486.8 Z" fill="#8bc45c" stroke="#2c561b" stroke-width="5.8" stroke-linejoin="round"/><path d="M318 409.9 C301 351.9 250 310.9 204.6 398.6 C236.4 350.6 278.3 401.6 318 441.9 Z" fill="#8bc45c" stroke="#2c561b" stroke-width="5.8" stroke-linejoin="round"/><path d="M318 385.7 C335.3 324.5 387.3 281.4 433.5 374.3 C401.2 322.4 358.4 375.5 318 417.6 Z" fill="#8bc45c" stroke="#2c561b" stroke-width="5.8" stroke-linejoin="round"/><path d="M318 332.3 C299.4 263.2 243.7 214.9 194.1 321 C228.8 259 274.6 317.4 318 364.3 Z" fill="#8bc45c" stroke="#2c561b" stroke-width="5.8" stroke-linejoin="round"/><path d="M318 308.1 C336 239 389.8 190.7 437.7 290.5 C404.2 234.8 359.9 293.2 318 340 Z" fill="#8bc45c" stroke="#2c561b" stroke-width="5.8" stroke-linejoin="round"/><path d="M318 254.9 C301.6 185.6 252.5 137.3 208.8 216.1 C239.4 180.5 279.8 238.3 318 284.9 Z" fill="#8bc45c" stroke="#2c561b" stroke-width="5.8" stroke-linejoin="round"/><path d="M318 230.9 C332.5 153.5 376 100 414.6 145.7 C387.6 145.3 351.8 207.7 318 258.8 Z" fill="#8bc45c" stroke="#2c561b" stroke-width="5.8" stroke-linejoin="round"/><path d="M318 187.5 C308.2 111.4 278.9 58.9 252.9 90.4 C271.1 102.7 295.2 163.4 318 213.4 Z" fill="#8bc45c" stroke="#2c561b" stroke-width="5.8" stroke-linejoin="round"/><path d="M318 163.4 C326.2 91.1 350.8 41.3 372.6 66.2 C357.3 82.5 337.1 140 318 187.4 Z" fill="#8bc45c" stroke="#2c561b" stroke-width="5.8" stroke-linejoin="round"/><path d="M309.6 520 L314.3 87.5 L321.7 87.5 L326.4 520 Z" fill="#7dba50" stroke="#2c561b" stroke-width="5.8" stroke-linejoin="round"/>
<path d="M296 205 Q286 240 300 275 Q310 240 304 205Z" fill="#e6c55a" stroke="#2c561b" stroke-width="5.8"/>
</g>
<!-- 50_arrows.py -->
<path d="M677 76.6 L669.3 76.4 L662.4 76.2 L654.6 76.2 L647.6 76.3 L640.5 76.5 L632.5 76.8 L625.4 77.2 L618.1 77.6 L610.8 78.2 L604.4 78.8 L596.9 79.6 L589.4 80.5 L581.8 81.5 L575 82.4 L568.2 83.5 L560.3 84.8 L553.3 86 L546.3 87.3 L539.1 88.8 L531.9 90.3 L524.5 91.9 L518.2 93.3 L510.7 95.1 L503.1 97 L504 87.3 L485.3 105.8 L510.6 112 L505 104.1 L512.5 102 L519.9 100 L526.1 98.3 L533.3 96.5 L540.4 94.7 L547.5 93.1 L554.4 91.5 L561.3 90 L569.1 88.5 L575.8 87.2 L582.4 86 L590 84.7 L597.4 83.6 L604.8 82.6 L611.2 81.7 L618.4 80.9 L625.6 80.2 L632.7 79.5 L640.6 78.9 L647.7 78.5 L654.6 78.2 L662.4 78 L669.3 77.8 L677 77.8Z" fill="#5d89c6" stroke="#17233a" stroke-width="2" stroke-linejoin="round"/>
<path d="M1010.7 143.2 L1001.1 138.4 L991.5 133.8 L981.9 129.3 L971 124.4 L961.4 120.3 L951.6 116.2 L941.8 112.3 L932 108.6 L922 105 L911.9 101.6 L901.8 98.4 L891.5 95.3 L881.1 92.4 L870.6 89.7 L861.3 87.4 L850.5 85 L839.5 82.8 L829.8 81 L818.5 79.2 L808.5 77.7 L796.8 76.3 L786.4 75.1 L775.9 74.1 L765.2 73.3 L768.7 65.4 L744.7 77.8 L767.3 91.9 L764.7 83.7 L775.2 84.1 L785.6 84.7 L795.9 85.5 L807.4 86.5 L817.3 87.6 L828.5 89 L838.2 90.4 L849.1 92.2 L859.8 94.2 L869.1 96.1 L879.6 98.4 L890 100.9 L900.3 103.6 L910.5 106.4 L920.5 109.5 L930.6 112.6 L940.5 116 L950.4 119.5 L960.2 123.2 L970 127 L981 131.5 L990.7 135.6 L1000.4 139.8 L1010.1 144.2Z" fill="#5d89c6" stroke="#17233a" stroke-width="2" stroke-linejoin="round"/>
<path d="M376.3 160 L368.5 166.7 L360.8 173.9 L353.5 181.7 L347.2 188.9 L340.3 197.5 L334.5 205.3 L328.2 214.6 L322.9 223 L317.9 231.7 L313.2 240.5 L308.8 249.5 L304.2 260 L300.5 269.3 L297.1 278.6 L294.1 288.1 L291.1 298.9 L288.9 308.4 L287 319.2 L285.6 330 L284.8 339.3 L284.4 349.9 L284.8 360.3 L285.9 371.7 L287.7 381.7 L279.9 379.4 L300.4 400.2 L305.9 374 L299.7 378.8 L297.7 369.8 L296.2 359.3 L295.4 349.6 L295.3 339.7 L295.6 330.8 L296.5 320.5 L297.9 310 L299.6 300.8 L302 290.2 L304.5 280.9 L307.3 271.7 L310.5 262.5 L314.6 252.1 L318.5 243.1 L322.7 234.2 L327.2 225.5 L332 217 L337.8 207.5 L343.1 199.5 L349.6 190.8 L355.4 183.4 L362.4 175.4 L369.6 167.9 L377.1 161Z" fill="#5d89c6" stroke="#17233a" stroke-width="2" stroke-linejoin="round"/>
<path d="M469.3 170.1 L466.4 175.4 L463.7 180.5 L461 185.9 L458.5 190.8 L456 196 L453.5 201.3 L451.2 206.2 L448.7 211.8 L446.5 216.9 L444.3 222.1 L442.1 227.4 L440 232.8 L437.9 238.3 L435.8 243.8 L433.8 249.5 L432.1 254.3 L430.1 260.1 L428.3 265.9 L426.7 270.9 L425 276.8 L423.3 282.8 L422 287.9 L420.5 293.8 L419.3 299 L411.5 294.7 L421 321.1 L438.2 300.1 L429.5 300.9 L430.3 295.9 L431.4 290 L432.3 284.9 L433.6 279 L434.9 273.1 L436.1 268.1 L437.5 262.3 L439.1 256.5 L440.4 251.6 L442 245.9 L443.7 240.3 L445.5 234.7 L447.2 229.3 L449 223.9 L450.8 218.6 L452.7 213.4 L454.8 207.6 L456.7 202.7 L458.8 197.2 L461 191.9 L463.1 186.8 L465.5 181.3 L467.8 176.1 L470.3 170.7Z" fill="#5d89c6" stroke="#17233a" stroke-width="2" stroke-linejoin="round"/>
<path d="M419.2 358 L419.6 365.5 L420.2 371.9 L420.9 378.2 L421.9 384.5 L423 390.7 L424.6 397.6 L426.2 403.7 L428.2 410.4 L430.2 416.3 L432.7 422.8 L435.1 428.5 L438 434.8 L440.8 440.3 L444.2 446.4 L447.3 451.7 L451.1 457.6 L454.6 462.7 L458.8 468.4 L462.7 473.3 L467.3 478.8 L471.5 483.4 L476.6 488.7 L481.1 493.1 L485.8 497.5 L478.9 501.2 L505 505.9 L495.4 482.4 L492.6 489.6 L487.8 485.7 L483.2 481.7 L478.2 476.9 L473.9 472.7 L469.1 467.7 L465.2 463.2 L460.8 458 L457.2 453.3 L453.2 447.8 L449.9 442.9 L446.3 437.2 L443.3 432.1 L440.1 426.1 L437.5 420.7 L434.7 414.5 L432.5 408.9 L430.1 402.4 L428.2 396.7 L426.3 389.9 L424.8 383.9 L423.5 377.8 L422.4 371.6 L421.5 365.3 L420.6 358Z" fill="#5d89c6" stroke="#17233a" stroke-width="2" stroke-linejoin="round"/>
<path d="M331.8 452.5 L336.9 457.7 L341.4 462.1 L346.1 466.4 L351.5 471.2 L356.3 475.2 L361.2 479.1 L367 483.3 L372.1 487 L378 490.9 L383.3 494.3 L389.4 497.9 L394.8 501 L401.1 504.3 L406.7 507.1 L413.2 510.1 L418.9 512.6 L424.7 515 L431.4 517.6 L437.3 519.7 L444.1 521.9 L450.1 523.7 L457.1 525.7 L463.2 527.2 L469.4 528.7 L465.1 536.3 L489.8 527.7 L470.2 511.7 L471.1 520.4 L465 519.3 L458.9 518.1 L452.1 516.5 L446.1 514.9 L439.4 513 L433.5 511.2 L426.9 509 L421.1 507 L415.4 504.8 L409 502.1 L403.4 499.6 L397.1 496.6 L391.6 493.8 L385.5 490.5 L380.1 487.4 L374.2 483.8 L369 480.5 L363.1 476.5 L358.1 472.9 L353.2 469.1 L347.6 464.6 L342.8 460.6 L338.1 456.4 L332.8 451.5Z" fill="#5d89c6" stroke="#17233a" stroke-width="2" stroke-linejoin="round"/>
<path d="M1010.3 656.5 L1015.7 653.4 L1020.4 650.6 L1024.9 647.6 L1030 644 L1034.3 640.8 L1039 636.8 L1043.1 633.3 L1047.5 629 L1051.3 625.1 L1055.4 620.5 L1058.9 616.4 L1062.2 612.1 L1065.8 607 L1068.8 602.4 L1072.1 597 L1074.7 592.2 L1077.2 587.2 L1079.9 581.4 L1082 576.1 L1084 570.8 L1085.8 565.3 L1087.4 559.7 L1088.8 554 L1090 548.2 L1097 552.9 L1087.4 527.2 L1072.7 548.5 L1080.7 546.7 L1079.9 552.2 L1078.9 557.7 L1077.7 563.1 L1076.3 568.4 L1074.8 573.6 L1073 578.7 L1070.8 584.4 L1068.7 589.3 L1066.5 594 L1063.7 599.4 L1061.1 603.9 L1057.9 609 L1054.9 613.4 L1051.8 617.6 L1048.1 622.3 L1044.7 626.3 L1040.6 630.7 L1036.9 634.4 L1032.4 638.5 L1028.4 642 L1023.6 645.8 L1019.3 649.1 L1014.9 652.1 L1009.7 655.5Z" fill="#5d89c6" stroke="#17233a" stroke-width="2" stroke-linejoin="round"/>
<path d="M564.8 393.1 L566.3 395.2 L567.9 397.3 L569.5 399.4 L571 401.2 L572.8 403.2 L574.4 404.9 L576.4 406.9 L578.1 408.6 L580 410.2 L581.9 411.9 L584.1 413.7 L586.2 415.3 L588 416.6 L590.1 418.1 L592.4 419.6 L594.7 421 L596.7 422.3 L598.8 423.5 L601.3 424.8 L603.5 426 L605.8 427.1 L608.1 428.2 L610.4 429.2 L612.9 430.2 L608.7 435 L628.6 432.1 L615.1 418.5 L614.9 424.7 L612.5 423.9 L610.2 423.1 L607.9 422.2 L605.6 421.3 L603.4 420.4 L600.9 419.3 L598.8 418.3 L596.8 417.3 L594.5 416 L592.2 414.8 L590 413.5 L588.2 412.4 L586.1 411 L583.8 409.4 L581.9 408 L580 406.5 L578.1 405 L576.1 403.2 L574.4 401.7 L572.5 399.8 L570.9 398.2 L569.1 396.3 L567.4 394.3 L565.8 392.3Z" fill="#8cc65c" stroke="#1c3014" stroke-width="2" stroke-linejoin="round"/>
<path d="M619.1 370.7 L619.5 372 L619.9 373 L620.3 374.3 L620.7 375.3 L621.1 376.4 L621.5 377.5 L622.1 378.7 L622.5 379.8 L623 380.8 L623.6 381.9 L624.1 382.9 L624.7 384 L625.3 385.1 L626 386.1 L626.5 387 L627.2 388.1 L627.9 389.2 L628.5 390.1 L629.2 391.2 L629.9 392.1 L630.7 393.2 L631.4 394.1 L632.1 395 L632.8 395.9 L626.6 398.3 L645.5 404.4 L640.2 386.2 L637.1 392 L636.3 391.2 L635.5 390.4 L634.7 389.7 L633.8 388.8 L633 388 L632.2 387.1 L631.4 386.4 L630.6 385.5 L629.8 384.6 L629.2 383.8 L628.4 382.9 L627.7 382 L627 381.1 L626.3 380.2 L625.6 379.3 L624.9 378.4 L624.3 377.5 L623.6 376.4 L623 375.4 L622.5 374.5 L621.9 373.5 L621.3 372.4 L620.8 371.4 L620.3 370.3Z" fill="#8cc65c" stroke="#1c3014" stroke-width="2" stroke-linejoin="round"/>
<path d="M766.7 366.8 L766 368.6 L765.2 370.3 L764.5 371.9 L763.6 373.6 L762.8 375.2 L761.9 376.7 L760.9 378.5 L759.9 380 L758.9 381.6 L758 382.9 L757 384.4 L755.9 385.9 L754.7 387.4 L753.6 388.7 L752.4 390.2 L751.3 391.5 L750.1 392.8 L748.7 394.3 L747.5 395.6 L746.2 396.8 L744.9 398.1 L743.5 399.3 L742.3 400.3 L740.9 401.5 L737.7 395.5 L732.6 412.2 L751 409.3 L744.9 405.9 L746.3 404.4 L747.4 403.2 L748.7 401.8 L749.9 400.3 L751.1 398.8 L752.3 397.4 L753.6 395.7 L754.7 394.2 L755.7 392.8 L756.8 391.1 L757.8 389.6 L758.8 387.9 L759.8 386.2 L760.7 384.5 L761.5 383.1 L762.3 381.4 L763.1 379.7 L764 377.8 L764.7 376.1 L765.4 374.4 L766.1 372.6 L766.7 370.9 L767.3 369.1 L767.9 367.2Z" fill="#8cc65c" stroke="#1c3014" stroke-width="2" stroke-linejoin="round"/>
<path d="M762.3 441.8 L764.2 433.7 L742.7 448.4 L768.5 457 L763.7 450.1 L769.6 449 L775.4 447.8 L780.4 446.6 L786.1 445 L791 443.6 L796.6 441.7 L802.1 439.7 L806.8 437.8 L812.2 435.4 L817.6 432.8 L822.1 430.4 L827.2 427.5 L831.6 424.8 L836.6 421.5 L840.9 418.6 L845.7 414.9 L849.8 411.6 L854.5 407.5 L858.4 403.8 L862.3 400 L866.1 396.1 L869.8 391.9 L873.4 387.6 L877 383.2 L881.2 390.2 L885.2 364 L862.6 375.4 L870.3 378 L866.9 382.3 L863.4 386.4 L859.9 390.3 L856.3 394.1 L852.6 397.8 L848.9 401.2 L844.4 405.1 L840.5 408.3 L835.9 411.8 L831.9 414.6 L827.1 417.7 L823 420.3 L818.1 423.1 L813.8 425.3 L808.7 427.8 L803.6 430 L799.1 431.8 L793.8 433.8 L788.5 435.6 L783.8 437 L778.3 438.4 L773.6 439.6 L768 440.8 L762.3 441.8Z" fill="#8cc65c" stroke="#1c3014" stroke-width="2" stroke-linejoin="round"/>
<path d="M1005.6 505.8 L1008.3 500.1 L1010.5 495.2 L1012.6 490.3 L1014.5 485.4 L1016.6 479.8 L1018.3 475 L1020 469.5 L1021.6 464 L1023 458.5 L1024.1 453.1 L1025.1 447.7 L1025.9 442.4 L1026.5 437.1 L1026.8 431.1 L1026.9 425.9 L1026.8 420.1 L1026.3 414.3 L1025.6 408.7 L1024.5 403.1 L1023.1 397.5 L1021.4 392.1 L1019.4 386.8 L1017 381.6 L1014.3 376.5 L1023 374.8 L999.2 364.3 L1000.3 387.8 L1006.2 381.4 L1009 385.8 L1011.4 390.4 L1013.5 395.1 L1015.4 400 L1017 404.9 L1018.3 410.1 L1019.3 415.3 L1020 420.7 L1020.5 426.1 L1020.7 431 L1020.7 436.8 L1020.5 441.8 L1020 447 L1019.4 452.3 L1018.6 457.6 L1017.6 463 L1016.4 468.5 L1015 474 L1013.6 478.8 L1011.9 484.5 L1010.3 489.4 L1008.5 494.3 L1006.6 499.3 L1004.2 505.2Z" fill="#8cc65c" stroke="#1c3014" stroke-width="2" stroke-linejoin="round"/>
<path d="M831.8 259.7 L844.6 254.2 L857.9 249.6 L870.5 246.2 L883.4 243.6 L898 241.9 L911.4 241.4 L923.5 241.9 L937.1 243.7 L950.6 246.7 L962.8 250.7 L976.1 256.5 L986.7 262.3 L998.4 270.1 L1008.6 278.2 L1018.5 287.6 L1028.3 298.2 L1036.5 308.5 L1044.6 319.9 L1051.3 330.5 L1057.8 341.9 L1064.1 354.1 L1070.2 367.2 L1075.1 378.8 L1079.8 391.1 L1080.2 390.9 L1076.1 378.4 L1071.8 366.6 L1066.3 353.1 L1060.5 340.5 L1054.3 328.7 L1047.9 317.8 L1040 306 L1031.8 295.2 L1022 284.2 L1011.9 274.5 L1001.4 266 L989.4 257.8 L978.5 251.8 L964.6 245.8 L952 241.8 L937.9 238.8 L923.9 237.2 L911.3 237 L897.6 237.8 L882.8 240 L869.7 243.1 L857.1 247 L843.8 252.3 L831.2 258.3Z" fill="#8cc65c" stroke="#1c3014" stroke-width="1.7" stroke-linejoin="round"/>
<path d="M629.6 446.4 L625.9 446.9 L622.2 447.5 L618.5 448.3 L615.2 449.1 L611.5 450.1 L607.7 451.3 L604.5 452.4 L600.8 453.8 L597.6 455.2 L594.5 456.7 L590.9 458.5 L587.8 460.2 L584.7 462 L581.7 464 L578.7 466 L575.8 468.2 L573 470.5 L570.2 472.9 L567.4 475.4 L564.8 478 L562.2 480.8 L559.7 483.7 L557.3 486.7 L555.3 489.3 L552.5 484.4 L550.3 503.4 L565.8 494.5 L560.5 493.1 L562.4 490.6 L564.6 487.8 L567 485.1 L569.4 482.5 L571.9 480 L574.4 477.6 L577 475.4 L579.7 473.2 L582.4 471.2 L585.2 469.2 L588 467.4 L590.9 465.7 L593.8 464 L597.2 462.3 L600.2 460.9 L603.2 459.6 L606.7 458.3 L609.7 457.2 L613.2 456.1 L616.7 455.1 L619.8 454.4 L623.3 453.7 L626.9 453.1 L630.4 452.6Z" fill="#e98583" stroke="#3c1616" stroke-width="2" stroke-linejoin="round"/>
<path d="M569.1 529.5 L572.3 529.7 L575.1 529.8 L577.9 530 L580.6 530.1 L583.4 530.2 L586.2 530.4 L589.4 530.5 L592.1 530.6 L594.8 530.8 L597.5 530.9 L600.7 531 L603.4 531.2 L606.1 531.3 L609.2 531.4 L611.9 531.6 L614.6 531.7 L617.7 531.8 L620.3 531.9 L623.4 532.1 L626 532.2 L629.1 532.3 L631.7 532.5 L634.7 532.6 L637.3 532.7 L635.2 541.1 L657.5 528.4 L635.1 515.9 L637.3 524.3 L634.7 524.5 L631.7 524.6 L629.1 524.8 L626 525 L623.4 525.1 L620.3 525.3 L617.7 525.4 L614.6 525.6 L611.9 525.7 L609.2 525.9 L606.1 526.1 L603.4 526.2 L600.7 526.4 L597.5 526.5 L594.8 526.7 L592.1 526.8 L589.3 527 L586.1 527.1 L583.4 527.3 L580.6 527.4 L577.9 527.6 L575.1 527.7 L572.3 527.9 L569.1 528.1Z" fill="#e98583" stroke="#3c1616" stroke-width="2" stroke-linejoin="round"/>
<path d="M734.5 530.1 L738.2 530.3 L741 530.4 L744.3 530.5 L747.6 530.7 L750.9 530.8 L754.3 530.9 L757.2 531.1 L760.6 531.2 L764 531.3 L766.9 531.5 L770.4 531.6 L773.3 531.7 L776.8 531.9 L779.8 532 L783.3 532.1 L786.3 532.3 L789.8 532.4 L792.8 532.5 L796.4 532.6 L799.4 532.8 L802.9 532.9 L805.9 533 L808.9 533.2 L812.5 533.3 L810 541.7 L832.8 528.6 L809.8 516 L812.4 524.4 L808.9 524.6 L805.8 524.7 L802.8 524.9 L799.3 525.1 L796.3 525.3 L792.8 525.5 L789.8 525.7 L786.3 525.8 L783.3 526 L779.8 526.2 L776.8 526.4 L773.3 526.5 L770.3 526.7 L766.9 526.9 L763.9 527.1 L760.5 527.2 L757.1 527.4 L754.2 527.6 L750.9 527.8 L747.5 527.9 L744.2 528.1 L741 528.3 L738.2 528.5 L734.5 528.7Z" fill="#e98583" stroke="#3c1616" stroke-width="2" stroke-linejoin="round"/>
<path d="M905.5 530.1 L907.3 530.3 L909 530.4 L910.8 530.6 L912.6 530.7 L914 530.8 L915.8 531 L917.6 531.1 L919.4 531.2 L920.9 531.4 L922.7 531.5 L924.5 531.6 L926 531.8 L927.8 531.9 L929.6 532.1 L931.1 532.2 L932.9 532.3 L934.5 532.5 L936.3 532.6 L938.2 532.7 L939.7 532.9 L941.6 533 L943.1 533.1 L944.7 533.3 L946.6 533.4 L944.2 541.8 L967.3 528.6 L943.9 516.1 L946.5 524.5 L944.6 524.7 L943 524.8 L941.5 525 L939.6 525.2 L938.1 525.4 L936.2 525.5 L934.4 525.7 L932.9 525.9 L931 526.1 L929.5 526.2 L927.7 526.4 L925.9 526.6 L924.4 526.8 L922.6 526.9 L920.8 527.1 L919.3 527.3 L917.6 527.4 L915.8 527.6 L914 527.8 L912.5 528 L910.8 528.1 L909 528.3 L907.2 528.5 L905.5 528.7Z" fill="#e98583" stroke="#3c1616" stroke-width="2" stroke-linejoin="round"/>
<path d="M1034.6 510.6 L1037.2 508.9 L1039.4 507.2 L1041.7 505.4 L1043.8 503.7 L1045.8 501.9 L1048.1 499.8 L1050.2 497.9 L1052.3 495.9 L1054.1 494.1 L1056.2 492 L1058 490.1 L1060.1 487.9 L1061.9 485.9 L1063.9 483.6 L1065.8 481.5 L1067.5 479.5 L1069.3 477.4 L1071.1 475.2 L1072.9 473.1 L1074.7 470.9 L1076.5 468.7 L1078.3 466.5 L1080 464.3 L1081.8 462 L1084.7 467.6 L1089.1 444.3 L1069.1 456.5 L1075.3 457.5 L1073.8 459.8 L1072.3 462.2 L1070.7 464.5 L1069.2 466.8 L1067.7 469.1 L1066.1 471.4 L1064.6 473.7 L1063 475.9 L1061.4 478.1 L1059.9 480.3 L1058 482.7 L1056.5 484.8 L1054.6 487.2 L1053 489.2 L1051.2 491.5 L1049.6 493.4 L1047.8 495.5 L1045.9 497.6 L1043.8 499.9 L1042 501.8 L1040.2 503.6 L1038.1 505.6 L1036.1 507.5 L1033.8 509.4Z" fill="#e98583" stroke="#3c1616" stroke-width="2" stroke-linejoin="round"/>
<path d="M1114.1 381.8 L1115.9 373.2 L1117.2 365.7 L1118.3 358.1 L1119.2 350.5 L1119.9 341.8 L1120.2 334.2 L1120.3 326.6 L1120.2 318 L1119.8 310.5 L1119.1 301.9 L1118.2 294.4 L1117.1 287 L1115.5 278.6 L1113.9 271.4 L1111.8 263.2 L1109.4 255.1 L1107.1 248 L1104.1 240.2 L1100.9 232.4 L1097.8 225.8 L1094 218.3 L1089.9 211.1 L1086.1 204.8 L1081.4 197.9 L1090.3 195.5 L1064.4 185.4 L1067.8 211.5 L1073.1 204.1 L1077.8 210.4 L1081.7 216.2 L1085.9 222.9 L1089.9 229.9 L1093.1 236.1 L1096.6 243.4 L1099.8 250.8 L1102.4 257.5 L1105.1 265.2 L1107.5 273.1 L1109.4 280 L1111.2 288.1 L1112.7 295.3 L1113.9 302.5 L1115 310.9 L1115.7 318.3 L1116.2 326.7 L1116.5 334.2 L1116.5 341.7 L1116.2 350.3 L1115.7 357.8 L1115 365.4 L1114.1 372.9 L1112.7 381.6Z" fill="#e98583" stroke="#3c1616" stroke-width="2" stroke-linejoin="round"/>
<path d="M806.2 349.8 C809 358 810.5 366 810 375" fill="none" stroke="#2a1a10" stroke-width="1.7"/><path d="M805.6 371 L808.2 381.2 L815 372 L810 374Z" fill="#2a1a10" stroke="#2a1a10" stroke-width="0.8" stroke-linejoin="round"/>
<path d="M1224 367.5 C1238 367.5 1245.7 370 1245.7 382 L1245.7 560 C1245.7 570 1242 572.7 1234.5 572.7" fill="none" stroke="#3a2a1a" stroke-width="1.6"/>
<!-- 55_mushroom.py -->
<g transform="translate(630 395) scale(0.09763)" stroke-linejoin="round" stroke-linecap="round">
<path d="M70 420 C65 330 110 200 230 150 C280 135 320 145 345 160 C420 100 520 70 560 80 C640 110 720 190 745 255 C770 262 800 270 820 290 L700 560 C680 575 620 580 560 592 C520 610 480 650 430 680 C390 700 340 690 310 660 C290 630 270 610 250 600 C200 590 150 580 120 560 C90 530 72 480 70 420Z" fill="#f7e4b4" stroke="#2a1a0c" stroke-width="16.4"/>
<path d="M480 265 C475 380 465 500 462 585 C480 610 520 612 545 590 C540 480 545 370 552 270Z" fill="#efdcae" stroke="#2a1a0c" stroke-width="16.4"/>
<path d="M520 280 C512 400 512 500 515 598" fill="none" stroke="#2a1a0c" stroke-width="9.8" opacity="0.6"/>
<path d="M322 200 C360 130 470 70 545 76 C620 90 720 180 742 252 C740 275 720 292 690 296 C600 305 480 290 400 268 C350 250 320 225 322 200Z" fill="#f0c766" stroke="#2a1a0c" stroke-width="16.4"/>
<path d="M328 206 C420 195 600 215 735 262 C730 280 712 292 690 296 C600 305 480 290 400 268 C355 252 330 230 328 206Z" fill="#8d6e4e" stroke="#2a1a0c" stroke-width="11.5"/>
<path d="M380 225 L395 255 M430 225 L440 268 M480 232 L485 278 M530 238 L532 286 M580 248 L580 292 M630 258 L628 296 M675 268 L670 296" stroke="#5a4028" stroke-width="7.4" fill="none"/>
<path d="M248 440 C265 520 285 600 300 655 C320 690 370 690 388 655 C370 580 345 500 322 418Z" fill="#f3e2b8" stroke="#2a1a0c" stroke-width="16.4"/>
<path d="M137 452 C130 380 190 300 262 286 C330 285 380 330 392 372 C385 395 360 405 335 412 C280 430 230 455 190 472 C165 475 145 468 137 452Z" fill="#f0c766" stroke="#2a1a0c" stroke-width="16.4"/>
<path d="M160 468 C220 430 300 400 385 385 C375 400 355 407 335 412 C280 430 230 455 190 472 C178 474 168 472 160 468Z" fill="#b08a55" stroke="#2a1a0c" stroke-width="9.8"/>
</g>
<!-- 56_misc.py -->
<g transform="translate(770 370) scale(0.05858)" stroke-linejoin="round" stroke-linecap="round">
<path d="M175 470 C180 420 230 400 260 360 C300 330 350 310 400 275 C440 270 480 260 520 235 C550 215 590 225 620 265 C680 285 760 300 830 325 C870 350 860 390 900 410 C950 430 985 480 960 520 C920 560 860 560 810 575 C780 610 700 625 620 610 C590 600 570 585 560 570 C450 575 330 560 250 540 C200 525 172 500 175 470Z" fill="#866038" stroke="#4a2a12" stroke-width="22"/>
<path d="M270 360 C320 355 370 390 440 385 M620 270 C600 330 680 390 780 360 M560 570 C600 520 660 480 710 475 C750 500 790 540 810 575" fill="none" stroke="#4a2a12" stroke-width="16"/>
<path d="M572 572 C610 525 665 490 708 487 C745 510 778 545 798 574 C770 600 700 612 625 600 C600 592 585 585 572 572Z" fill="#a07a4c"/>
</g>
<ellipse cx="493.3" cy="462.8" rx="4.3" ry="3.4" fill="#8a7660" stroke="#3a2818" stroke-width="1.3" transform="rotate(10 493.3 462.8)"/>
<ellipse cx="519.8" cy="458.6" rx="7.4" ry="5.8" fill="#8a7866" stroke="#3a2818" stroke-width="1.3" transform="rotate(-15 519.8 458.6)"/>
<ellipse cx="539" cy="461.6" rx="3.4" ry="2.6" fill="#9a805e" stroke="#3a2818" stroke-width="1.3" transform="rotate(0 539 461.6)"/>
<ellipse cx="548.8" cy="449.7" rx="7" ry="5.2" fill="#8a7866" stroke="#3a2818" stroke-width="1.3" transform="rotate(-10 548.8 449.7)"/>
<ellipse cx="533.8" cy="443.3" rx="3.6" ry="3.2" fill="#9a8262" stroke="#3a2818" stroke-width="1.3" transform="rotate(0 533.8 443.3)"/>
<ellipse cx="562.9" cy="436.3" rx="5.6" ry="4" fill="#98805f" stroke="#3a2818" stroke-width="1.3" transform="rotate(-10 562.9 436.3)"/>
<ellipse cx="569.4" cy="457.4" rx="4.8" ry="4" fill="#8a7660" stroke="#3a2818" stroke-width="1.3" transform="rotate(10 569.4 457.4)"/>
<ellipse cx="577.6" cy="444.5" rx="3.4" ry="3" fill="#98805f" stroke="#3a2818" stroke-width="1.3" transform="rotate(0 577.6 444.5)"/>
<ellipse cx="1223.9" cy="411.3" rx="8" ry="5.2" fill="#8d8070" stroke="#3a2818" stroke-width="1.3" transform="rotate(20 1223.9 411.3)"/>
<ellipse cx="1252.2" cy="405" rx="3.2" ry="2.8" fill="#9a7450" stroke="#2e2014" stroke-width="1.2" transform="rotate(20 1252.2 405)"/>
<ellipse cx="1271.8" cy="416.3" rx="4.6" ry="5.6" fill="#9a7450" stroke="#2e2014" stroke-width="1.2" transform="rotate(20 1271.8 416.3)"/>
<ellipse cx="1284.3" cy="404.6" rx="3.2" ry="2.8" fill="#9a7450" stroke="#2e2014" stroke-width="1.2" transform="rotate(20 1284.3 404.6)"/>
<ellipse cx="1295.6" cy="418.4" rx="3.8" ry="3.6" fill="#9a7450" stroke="#2e2014" stroke-width="1.2" transform="rotate(20 1295.6 418.4)"/>
<ellipse cx="1258" cy="428.8" rx="3.2" ry="2.8" fill="#9a7450" stroke="#2e2014" stroke-width="1.2" transform="rotate(20 1258 428.8)"/>
<!-- 57_fish.py -->
<defs><linearGradient id="fishg" x1="0" y1="0" x2="0" y2="1"><stop offset="0" stop-color="#9fb0c0"/><stop offset="0.45" stop-color="#b9c6d2"/><stop offset="0.55" stop-color="#dde4ea"/><stop offset="1" stop-color="#e8edf1"/></linearGradient></defs>
<g transform="translate(335 630) scale(0.08721)" stroke-linejoin="round" stroke-linecap="round">
<path d="M300 318 C230 290 160 240 112 210 C125 270 150 330 172 380 C150 430 120 490 110 540 C170 510 240 470 300 442 C270 410 270 350 300 318Z" fill="#8d99a8" stroke="#1c2838" stroke-width="16.1"/>
<path d="M620 245 L738 125 L862 238Z" fill="#8d99a8" stroke="#1c2838" stroke-width="16.1"/>
<path d="M375 308 L398 280 L475 298Z" fill="#8d99a8" stroke="#1c2838" stroke-width="16.1"/>
<path d="M368 438 L432 532 L545 478Z" fill="#8d99a8" stroke="#1c2838" stroke-width="16.1"/>
<path d="M662 508 L650 592 L772 514Z" fill="#8d99a8" stroke="#1c2838" stroke-width="16.1"/>
<path d="M252 380 C255 345 275 325 300 318 C380 305 470 290 560 270 C680 245 860 235 1000 250 C1090 262 1200 300 1258 368 C1262 385 1250 405 1200 438 C1140 475 1060 495 1000 502 C900 518 800 520 700 508 C580 490 450 450 300 442 C270 435 252 410 252 380Z" fill="url(#fishg)" stroke="#1c2838" stroke-width="16.1"/>
<path d="M845 425 C880 410 950 415 988 432 C985 460 950 478 910 476 C875 470 850 450 845 425Z" fill="#8d99a8" stroke="#1c2838" stroke-width="12.8"/>
<path d="M1052 310 C1010 340 1000 410 1075 466" fill="none" stroke="#1c2838" stroke-width="12.8"/>
<circle cx="1158" cy="355" r="19" fill="#1c2838"/>
<path d="M1180 398 C1205 396 1228 390 1245 380" fill="none" stroke="#7a4a3a" stroke-width="12.8"/>
</g>
<!-- 58_seaweed.py -->
<path d="M512.1 729.8 Q502.4 733.3 493.9 739.9 M498.1 736.6 l4.2 6.6 M512.1 729.8 Q507.3 733.9 504.3 741.6 M505.8 737.7 l4.2 6.3 M512.1 729.8 Q510 734.7 508.8 743.8 M509.4 739.3 l-2.4 5.9 M512.1 729.8 Q511.8 734.5 513.5 743.3 M512.6 738.9 l-2.1 7.3 M512.1 729.8 Q517.9 734.3 519.8 742.8 M518.8 738.6 l-3.4 6.1 M512.1 729.8 Q519.3 733.4 521.6 740.1 M520.4 736.8 l-2.8 4.6 M512.1 729.8 Q523.8 732.3 533 736.9 M528.4 734.6 l4.4 5.8 " fill="none" stroke="#2a1a10" stroke-width="1.2" stroke-linecap="round"/>
<g transform="translate(460 635) scale(0.16273)">
<path d="M330.8 576.6 L327.4 570 L323.1 561.2 L317.9 550.7 L312 538.9 L305.5 526.4 L298.6 513.7 L291.4 501.2 L284.1 489.5 L276.8 478.3 L269 467.4 L260.9 456.4 L252.5 445.6 L243.8 435 L234.9 424.5 L225.7 414.2 L216.3 404 L206.2 393.8 L195.5 383.6 L184.4 373.9 L173.3 364.5 L162.4 355.5 L152 347.1 L142.4 339.3 L133.8 332.2 L125.8 325.2 L117.9 318 L110.3 310.8 L102.9 303.9 L95.8 297.6 L89.1 292.1 L82.7 288 L76 286 L76 286 L75.6 292.9 L77 300.3 L79.6 308.6 L83.1 317.7 L87.6 327.4 L92.9 337.5 L99.1 347.7 L106.2 357.8 L114.3 367.8 L123.4 377.9 L133.2 387.9 L143.4 397.9 L153.9 407.8 L164.3 417.4 L174.3 426.8 L183.7 436 L193 445.3 L202.4 454.7 L211.7 464.1 L221 473.5 L230.1 482.8 L239 492.1 L247.6 501.4 L255.9 510.5 L264 520.2 L272.4 530.8 L280.7 542 L288.8 553.1 L296.3 563.6 L303 573.2 L308.8 581.3 L313.2 587.4Z" fill="#80ad4b" stroke="#1c3418" stroke-width="8" stroke-linejoin="round"/>
<path d="M332 579.5 L330.5 571 L328.8 559.6 L326.7 545.8 L324.2 530.3 L321 513.6 L317 496.4 L312 479.1 L305.9 462.5 L298.6 446.2 L290.1 429.6 L280.6 412.8 L270.4 396.2 L259.7 379.8 L248.9 364.1 L238.2 349.4 L227.6 335.4 L216.4 322.4 L204.5 310.5 L192.6 300 L181.1 290.6 L170.4 282 L160.8 274.2 L152.6 266.9 L145.9 259.9 L140.2 252.1 L134.9 243 L130.2 233 L125.8 222.6 L121.8 212.5 L117.8 203.3 L113.6 195.4 L108 190 L108 190 L105 196.9 L103.4 205.5 L102.4 215.7 L102.2 227.4 L102.9 240 L104.9 253.2 L108.5 266.8 L114.1 280.1 L121.9 292.6 L131.1 303.9 L141.1 314.4 L151.7 324.4 L162.3 334.2 L172.8 343.9 L182.8 353.8 L192.4 364.6 L202.5 376.9 L213.3 390.6 L224.5 405 L235.6 419.8 L246.4 434.8 L256.7 449.7 L266 464 L274.1 477.5 L281 491.2 L287.3 506 L292.8 521.4 L297.8 536.7 L302.2 551.3 L306 564.5 L309.2 575.9 L312 584.5Z" fill="#8cb955" stroke="#1c3418" stroke-width="8" stroke-linejoin="round"/>
<path d="M330 588.6 L335.7 582.5 L343.4 574.4 L352.6 564.7 L362.7 554 L373.3 542.8 L384 531.6 L394.2 520.9 L403.4 511.5 L411.8 503.4 L420.1 495.8 L428.5 488.3 L437 480.6 L445.5 472.3 L453.9 463.1 L462 453 L470 441.1 L476.8 427.1 L481.8 412.4 L485.5 398 L488.5 384.2 L491.5 371.5 L494.7 360.3 L498.5 351.1 L503 343.6 L510.5 336.2 L521.9 328.4 L535.9 320.6 L551.2 313.2 L566.5 306.2 L580.6 299.6 L592.3 293.2 L600 286 L600 286 L589.8 284.8 L576.6 285.6 L561 287.4 L543.8 290.3 L526 294.3 L508.4 299.7 L491.8 306.8 L477 316.4 L465.1 328.9 L456.4 343.2 L450 358 L445.2 372.6 L441.3 386.5 L437.8 399.2 L434.2 410 L430 418.9 L425 427.2 L419.3 435.5 L413.1 443.6 L406.5 451.7 L399.4 460.1 L391.9 468.9 L384.3 478.4 L376.6 488.5 L368.6 499.6 L360 511.6 L350.9 524.2 L341.8 536.7 L333.2 548.7 L325.4 559.5 L318.9 568.7 L314 575.4Z" fill="#80ad4b" stroke="#1c3418" stroke-width="8" stroke-linejoin="round"/>
<path d="M331.3 586.6 L336.2 577.9 L342.9 566 L350.7 551.9 L359.4 536.4 L368.5 520.5 L377.8 505.1 L386.7 491.1 L394.6 479.8 L402.1 471.5 L410.1 464.4 L418.8 457.7 L428.2 450.6 L437.8 442.7 L447.3 433 L455.8 420.8 L462.1 405.7 L464.5 388.8 L463.4 372.4 L460.2 357.1 L456.3 342.8 L452.5 329.3 L449.6 316.8 L448 305.3 L448.3 294.5 L451.4 281.5 L457.2 265.6 L464.9 248.3 L473.5 230.6 L482.2 213.4 L490 197.5 L495.9 183.6 L498 172 L498 172 L488.6 178.8 L477.9 189.3 L465.9 202.5 L453.2 217.6 L440.7 234 L429.1 251 L419.1 268.2 L411.7 285.5 L408 303.5 L407.8 321.2 L409.7 337.9 L412.7 353.2 L415.7 367 L417.8 378.6 L418.6 387.7 L417.9 394.3 L415.9 399.9 L412.4 405.7 L407.3 412 L400.3 419.1 L392 427.2 L382.9 436.5 L373.7 447.5 L365.4 460.2 L357.8 474.4 L350.2 490.3 L342.6 507.2 L335.1 524.3 L328.1 540.8 L321.9 555.8 L316.7 568.3 L312.7 577.4Z" fill="#8cb955" stroke="#1c3418" stroke-width="8" stroke-linejoin="round"/>
<path d="M332.7 583.1 L334.2 573.4 L336.1 560.3 L338.3 544.6 L340.8 527.3 L343.5 509.5 L346.2 492.1 L348.9 476 L351.6 462.5 L354.3 451.6 L357.4 442.1 L360.7 433 L364.1 423.9 L367.4 414.2 L370.1 403.6 L371.9 391.7 L372.4 378.2 L370.5 363.1 L366.6 348.2 L361.7 334 L356.7 320.6 L352.3 308.4 L349.3 297.9 L348 290.1 L348 285.7 L349 282.9 L352.3 278.5 L358.7 272.5 L367.5 265.4 L377.8 257.4 L388.4 247.9 L398.3 236.3 L405.6 222.3 L409.3 207.2 L410.7 191.6 L410.8 175.7 L409.8 159.9 L408.1 144.9 L405.9 131.5 L403.5 120.3 L400 112 L400 112 L395.8 120.1 L393 131.3 L390.7 144.6 L388.3 159 L385.7 173.6 L382.5 187.4 L378.6 199.3 L374.4 207.7 L369.4 213.1 L362.6 218.3 L353.6 223.9 L343.1 229.9 L331.7 237 L320.2 245.8 L309.4 258 L302 274.3 L300.2 291.9 L302.4 308.1 L306.8 323.3 L312.1 337.5 L317.5 350.8 L322.3 362.9 L325.8 373.3 L327.6 381.8 L328.1 389.6 L327.9 397.3 L327 405 L325.6 413.3 L323.7 422.6 L321.7 433 L319.8 444.6 L318.4 457.5 L317.4 472.2 L316.4 488.7 L315.3 506.6 L314.3 524.7 L313.3 542.1 L312.5 557.9 L311.8 571.2 L311.3 580.9Z" fill="#8cb955" stroke="#1c3418" stroke-width="8" stroke-linejoin="round"/>
<path d="M333 579.8 L331.7 570.8 L330 558.5 L327.9 543.9 L325.6 527.7 L323.2 511 L320.9 494.6 L318.8 479.5 L317.1 466.7 L316.1 456.5 L315.7 447.7 L315.6 439.4 L315.3 431.2 L314.5 422.3 L313 412.8 L310.4 402.3 L306.2 390 L299.1 376.2 L290 362.8 L280.2 350.2 L270.8 338.1 L262.7 326.7 L256.8 316.5 L253.5 308.1 L252.6 301.9 L254.2 294.6 L259.4 283.6 L268.1 269.9 L279.1 254.7 L290.9 238.4 L302.2 221.3 L311.7 203.3 L317.4 184.4 L318.5 165.7 L316.4 147.6 L312.3 130.3 L306.9 113.9 L300.8 99 L294.6 86.1 L288.8 75.6 L283 68 L283 68 L281 77.6 L281.7 89.8 L283.3 103.9 L285.1 119.1 L286.5 134.7 L286.8 150 L285.6 164 L282.6 175.6 L277.1 186.2 L268.2 198.5 L256.8 212.2 L243.9 226.8 L230.8 242.3 L218.6 258.9 L208.7 277.2 L203.4 298.1 L204.9 319.2 L211.5 337.8 L220.8 353.9 L231.3 368.2 L241.8 381 L251.4 392.3 L258.9 401.9 L263.8 410 L267.3 417.5 L270.1 424.5 L272.3 430.9 L274.1 437.3 L275.9 444.5 L277.7 452.8 L280 462.4 L282.9 473.3 L286.4 486 L290.2 500.7 L294.2 516.7 L298.3 533 L302.2 548.9 L305.8 563.2 L308.8 575.3 L311 584.2Z" fill="#80ad4b" stroke="#1c3418" stroke-width="8" stroke-linejoin="round"/>
</g>
<path d="M951.4 724.5 Q940.9 728.1 932.8 734.7 M936.8 731.4 l-5.6 8 M951.4 724.5 Q943.9 729.8 938.8 739.7 M941.3 734.8 l-6 7.5 M951.4 724.5 Q946.5 730.9 943.8 742.7 M945.2 736.8 l4.2 5.8 M951.4 724.5 Q953.7 733.2 952.2 749.5 M952.9 741.4 l1 7.3 M951.4 724.5 Q959.1 730.2 961.8 740.9 M960.5 735.6 l-2.7 6 M951.4 724.5 Q962.2 730.2 967.2 740.9 M964.7 735.6 l-4.2 8.2 M951.4 724.5 Q964.7 727.9 973.3 734.2 M969 731 l-5.7 5.5 " fill="none" stroke="#2a1a10" stroke-width="1.2" stroke-linecap="round"/>
<g transform="translate(830 595) scale(0.21492)">
<path d="M568.9 599.8 L567 594.7 L564.5 587.8 L561.5 579.8 L558.2 570.8 L554.6 561.2 L550.9 551.3 L547.3 541.5 L543.8 532 L540.2 522.6 L536.3 513 L532.2 503.5 L528.1 494 L524.2 484.7 L520.6 475.8 L517.4 467.3 L515 459.6 L513.2 452.4 L511.8 444.8 L510.5 436.5 L509 427.6 L507.2 418.1 L504.8 408 L501.4 397.4 L496.8 387.2 L491.5 378.3 L486.1 370.5 L480.2 363.3 L473.8 356.7 L467.1 350.6 L460 344.9 L452.6 339.5 L444.4 334 L434.9 328.1 L424.2 322.1 L412.8 316.3 L401.2 310.9 L389.9 306.1 L379.5 302.3 L370.2 299.9 L362 300 L362 300 L364.7 307.8 L370.3 315.6 L377.6 324 L385.8 332.8 L394.3 341.8 L402.6 350.5 L409.8 358.7 L415.6 366 L420.4 372.7 L424.8 379.2 L428.7 385.2 L432.2 390.8 L435.2 396.3 L438.1 401.7 L440.8 407.3 L443.2 412.8 L445.3 418.1 L447.1 424.2 L448.9 431.5 L451 439.9 L453.4 449.2 L456.3 459.3 L460.2 469.9 L465 480.4 L470.7 490.3 L476.9 499.6 L483.4 508.5 L490.1 517 L496.8 525.2 L503.5 533.1 L510 540.7 L516.2 548 L522.4 555.6 L528.9 563.7 L535.4 572 L541.8 580 L547.8 587.5 L553.1 594.2 L557.7 599.9 L561.1 604.2Z" fill="#86b552" stroke="#1c3418" stroke-width="6" stroke-linejoin="round"/><path d="M562.3 597.3 L558.8 591 L554.7 583.6 L550 575.4 L545 566.6 L539.9 557.5 L534.9 548.6 L530 540 L525.1 531.6 L519.9 523.1 L514.5 514.3 L509.1 505.5 L503.8 496.6 L498.7 487.7 L494.1 478.8 L490 470 L486.7 461.1 L484.1 452 L481.9 442.9 L480 433.8 L478.1 424.8 L475.9 416.1 L473.3 407.8 L470 400 L466.1 392.8 L462.1 386.1 L457.7 379.8 L453 373.8 L447.9 367.9 L442.4 362 L436.5 356.1 L430 350 L422.4 343.4 L413.4 336.3 L403.6 329.1 L393.5 321.9 L383.8 315.1" fill="none" stroke="#1c3418" stroke-width="3" opacity="0.7"/>
<path d="M568.7 606 L574.3 601.8 L581.9 596.5 L591.1 590 L601.2 582.8 L611.8 575 L622.5 566.9 L632.9 558.8 L642.3 551 L651 543.6 L659.9 536.1 L668.9 528.1 L677.8 519.6 L686.4 510.6 L694.4 500.9 L701.6 490.2 L707.7 477.9 L711.6 463.9 L712.6 450 L711.7 437.8 L710.1 427.3 L708.6 418.5 L707.5 411.5 L707.2 406.3 L707.6 401.2 L708.5 394.1 L709.6 385.7 L710.9 377.1 L712.4 368.5 L714.1 359.7 L716.2 350.9 L718.5 341.9 L721.2 333 L724.4 323.7 L728.2 313.9 L732.6 303.6 L737.5 292.9 L742.8 281.8 L748.2 270.5 L753.7 259.1 L759 247.9 L764.6 236.3 L770.9 223.9 L777.6 211.1 L784.3 198.3 L790.5 185.9 L795.7 174.5 L799.3 164.2 L800 155 L800 155 L791.3 158.1 L782.3 164.1 L772.4 171.9 L761.9 181.1 L751.2 191.1 L740.5 201.6 L730.3 212.1 L721 222.1 L712.4 231.7 L703.9 241.5 L695.4 251.7 L687.2 262.1 L679.3 272.9 L671.8 284 L664.9 295.4 L658.8 307 L653.6 318.7 L649.1 330.3 L645.4 341.9 L642.4 353.4 L640 364.8 L638.3 376 L637.1 386.9 L636.4 398.8 L637.1 412.2 L639.5 424.9 L642.7 435.4 L645.9 444 L648.5 450.6 L650.4 455.4 L651.6 458.8 L652.3 462.1 L651.6 467.4 L649.4 474.5 L646 482.6 L641.4 491.4 L635.9 500.6 L630 510.1 L623.7 519.6 L617.7 529 L611.4 538.3 L604 548.1 L595.9 558.1 L587.6 568 L579.5 577.2 L572.1 585.6 L566 592.7 L561.3 598Z" fill="#86b552" stroke="#1c3418" stroke-width="6" stroke-linejoin="round"/><path d="M570.1 597.3 L577 591 L585.3 583.6 L594.4 575.4 L603.9 566.6 L613.3 557.5 L622.1 548.6 L630 540 L637.4 531.6 L644.9 523.1 L652.4 514.3 L659.6 505.5 L666.2 496.6 L671.9 487.7 L676.6 478.8 L680 470 L681.6 461.3 L681.5 452.7 L680.1 444.2 L678 435.6 L675.6 427 L673.5 418.2 L672.2 409.2 L672 400 L672.8 390.5 L673.9 380.8 L675.4 371 L677.4 360.9 L679.8 350.8 L682.6 340.6 L686 330.3 L690 320 L694.7 309.6 L700 299 L706 288.3 L712.4 277.5 L719.1 266.7 L726 256 L733.1 245.4 L740 235 L747.4 224.2 L755.7 212.8 L764.4 201.1 L773.1 189.7 L781.5 178.9" fill="none" stroke="#1c3418" stroke-width="3" opacity="0.7"/>
<path d="M570.3 601.1 L570 594.6 L569.6 586 L569.2 575.7 L568.7 564.3 L568.1 552.1 L567.4 539.8 L566.8 527.8 L566.1 516.5 L565.4 505.8 L564.5 495.1 L563.6 484.5 L562.5 474.1 L561.4 463.7 L560.2 453.4 L559.1 443.3 L558 433.2 L556.9 423 L555.6 412.8 L554.2 402.6 L552.8 392.5 L551.4 382.6 L549.9 372.8 L548.4 363 L546.9 353.1 L545.1 342.7 L543.1 332.2 L540.9 322 L538.9 312.3 L537 303.3 L535.5 295.1 L534.4 287.9 L533.7 282 L533.4 277 L533.5 271.9 L534.2 266.3 L535.3 260 L536.8 252.9 L538.6 245.1 L540.4 236.5 L541.7 227.6 L542.6 218.7 L543.4 209.6 L544.1 200.1 L544.6 190.7 L544.8 181.7 L544.4 173.5 L543.2 166.2 L540 160 L540 160 L533.7 163 L528.4 168.1 L523.1 174.5 L517.9 181.8 L512.7 189.6 L507.6 197.6 L502.7 205.4 L498.3 212.4 L494.2 218.2 L489.9 224 L485.4 230.3 L480.7 237.5 L476.2 245.8 L472 255.3 L468.5 266.1 L466.3 278 L465.5 290.2 L465.7 302.1 L466.8 313.8 L468.4 325.2 L470.4 336.3 L472.6 346.9 L474.9 357 L477.1 366.9 L479.5 377 L482.1 387.2 L485.1 397.4 L488.2 407.5 L491.4 417.4 L494.8 427.2 L498.4 437 L502 446.8 L505.8 456.6 L509.7 466.5 L513.8 476.1 L517.9 485.7 L522 495.2 L526.1 504.6 L530 514 L533.9 523.5 L537.7 533.6 L541.5 544.7 L545.2 556.3 L548.8 567.7 L552.2 578.6 L555.2 588.5 L557.8 596.7 L559.7 602.9Z" fill="#8dbb58" stroke="#1c3418" stroke-width="6" stroke-linejoin="round"/><path d="M563.9 595.7 L562.4 587.2 L560.7 577.2 L558.8 566 L556.7 554.2 L554.5 542.3 L552.2 530.7 L550 520 L547.7 509.9 L545.3 499.9 L542.8 489.9 L540.2 479.9 L537.6 469.9 L535 460 L532.4 450 L530 440 L527.6 430 L525.2 420 L522.8 410 L520.5 400 L518.2 390 L516 380 L513.9 370 L512 360 L510 349.9 L507.8 339.5 L505.7 329.1 L503.6 318.8 L501.9 308.5 L500.6 298.6 L499.9 289 L500 280 L501 271.5 L502.8 263.6 L505.2 256 L508 248.8 L511.1 241.6 L514.2 234.5 L517.3 227.4 L520 220 L522.6 212.1 L525.5 203.6 L528.4 194.9 L531.2 186.2 L534 178.1" fill="none" stroke="#1c3418" stroke-width="3" opacity="0.7"/>
<path d="M571 602.7 L572.8 594.9 L575.2 584.5 L578.1 572.2 L581.2 558.6 L584.7 544.2 L588.3 529.7 L592.2 515.8 L596 503.3 L600.2 491.8 L604.9 480.4 L610 468.6 L615.2 456.5 L620.2 443.9 L625 430.7 L629 416.7 L632 401.8 L633.5 386.4 L633.7 371.4 L632.9 357.2 L631.8 343.9 L630.6 331.6 L629.7 320.3 L629.3 310.2 L629.5 300.3 L630.3 289.5 L631.2 277.9 L632.2 266.4 L633.5 255 L634.9 243.7 L636.6 232.7 L638.6 221.8 L640.7 211.6 L643.2 201.7 L646.5 191.5 L650.5 180.6 L655.1 169.2 L659.9 157.5 L664.6 145.5 L669.2 133.3 L673 121.1 L676.1 109.1 L679 97 L681.6 84.9 L683.7 73.1 L685.2 62 L686 51.8 L685.7 42.9 L683 35 L683 35 L675.4 38.5 L668.7 44.4 L661.9 52 L654.9 60.7 L647.8 70.1 L640.7 79.9 L633.7 89.7 L627 98.9 L620.3 107.7 L613.1 116.9 L605.5 126.9 L597.7 137.6 L589.9 149.1 L582.3 161.4 L575.3 174.6 L569.3 188.4 L564.5 202.2 L560.5 215.9 L557.2 229.8 L554.7 243.8 L552.7 257.7 L551.4 271.6 L550.7 285.4 L550.5 299.7 L551.2 314.8 L553.3 329.7 L556 343.4 L559.1 356.1 L562 367.8 L564.7 378.6 L566.7 388.6 L568 398.2 L568.5 408.3 L568.1 419.2 L567.2 430.9 L565.7 443.2 L564 456.1 L562.3 469.4 L560.8 483 L560 496.7 L559.6 510.9 L559.3 525.8 L559.1 541 L559 555.9 L559 570 L559 582.7 L559.1 593.3 L559 601.3Z" fill="#86b552" stroke="#1c3418" stroke-width="6" stroke-linejoin="round"/><path d="M565.9 594.1 L567.1 583.6 L568.5 571.1 L570.1 557.2 L571.9 542.6 L573.8 527.8 L575.9 513.4 L578 500 L580.5 487.4 L583.6 474.9 L587 462.4 L590.4 449.9 L593.7 437.4 L596.5 425 L598.7 412.5 L600 400 L600.1 387.5 L599.2 375 L597.5 362.5 L595.4 350 L593.3 337.5 L591.5 325 L590.3 312.5 L590 300 L590.5 287.4 L591.3 274.8 L592.5 262.1 L594.1 249.4 L596.1 236.8 L598.6 224.3 L601.5 212 L605 200 L609.3 188.2 L614.4 176.4 L620.2 164.9 L626.4 153.4 L632.7 142.2 L638.9 131.2 L644.7 120.5 L650 110 L654.9 99.4 L659.9 88.4 L664.7 77.5 L669.3 66.9 L673.6 57" fill="none" stroke="#1c3418" stroke-width="3" opacity="0.7"/>
</g>
<path d="M876.2 728.6 Q868.5 730.6 865.7 734.4 M867.1 732.5 l2.4 2.6 M876.2 728.6 Q868.8 732.5 866.6 739.7 M867.7 736.1 l0.4 4.2 M876.2 728.6 Q874.2 732.3 871.6 739 M872.9 735.6 l-0.3 4.5 M876.2 728.6 Q874.7 732.3 876.4 739.1 M875.6 735.7 l0 5 M876.2 728.6 Q879.9 732.7 883.1 740.4 M881.5 736.6 l1.6 2.9 M876.2 728.6 Q883.1 731.8 886.1 737.8 M884.6 734.8 l-0.5 2.8 M876.2 728.6 Q881.1 730.4 885.8 733.8 M883.5 732.1 l2 3.1 " fill="none" stroke="#2a1a10" stroke-width="1.0" stroke-linecap="round"/>
<g transform="translate(830 595) scale(0.21492)" stroke-linejoin="round" stroke-linecap="round">
<path d="M215 622 Q190 560 168 500 Q140 420 112 365 Q104 345 96 328" fill="none" stroke="#1c3418" stroke-width="13.3"/>
<path d="M215 622 Q190 560 168 500 Q140 420 112 365 Q104 345 96 328" fill="none" stroke="#7fae50" stroke-width="6"/>
<path d="M215 622 Q240 550 255 480 Q270 400 282 330 Q292 280 302 240" fill="none" stroke="#1c3418" stroke-width="13.3"/>
<path d="M215 622 Q240 550 255 480 Q270 400 282 330 Q292 280 302 240" fill="none" stroke="#7fae50" stroke-width="6"/>
<path d="M188 552 Q159.1 523.9 112 530 Q148.5 560.3 188 552 Z" fill="#7fae50" stroke="#1c3418" stroke-width="5.1"/>
<path d="M186 548 Q205.8 523.5 188 492 Q168 522.1 186 548 Z" fill="#7fae50" stroke="#1c3418" stroke-width="5.1"/>
<path d="M165 492 Q127.9 467 76 478 Q122 504.4 165 492 Z" fill="#7fae50" stroke="#1c3418" stroke-width="5.1"/>
<path d="M163 488 Q187.9 469.8 178 436 Q151.6 459.4 163 488 Z" fill="#7fae50" stroke="#1c3418" stroke-width="5.1"/>
<path d="M138 425 Q112.2 395.2 66 398 Q99 430.5 138 425 Z" fill="#7fae50" stroke="#1c3418" stroke-width="5.1"/>
<path d="M137 420 Q166.4 411.1 168 376 Q135.5 389.3 137 420 Z" fill="#7fae50" stroke="#1c3418" stroke-width="5.1"/>
<path d="M115 368 Q91.8 341.7 52 350 Q81.5 378.1 115 368 Z" fill="#7fae50" stroke="#1c3418" stroke-width="5.1"/>
<path d="M114 366 Q146.5 362 158 326 Q121.1 334 114 366 Z" fill="#7fae50" stroke="#1c3418" stroke-width="5.1"/>
<path d="M100 338 Q106 314.8 80 312 Q76 337.8 100 338 Z" fill="#7fae50" stroke="#1c3418" stroke-width="5.1"/>
<path d="M232 572 Q237.5 533 205 500 Q202.2 546.2 232 572 Z" fill="#7fae50" stroke="#1c3418" stroke-width="5.1"/>
<path d="M234 570 Q276.2 577.3 316 546 Q265.6 541.1 234 570 Z" fill="#7fae50" stroke="#1c3418" stroke-width="5.1"/>
<path d="M252 495 Q247 458.4 208 440 Q217.4 482.1 252 495 Z" fill="#7fae50" stroke="#1c3418" stroke-width="5.1"/>
<path d="M253 492 Q294.6 489.4 324 450 Q275.3 456.8 253 492 Z" fill="#7fae50" stroke="#1c3418" stroke-width="5.1"/>
<path d="M267 415 Q260.4 380.8 222 368 Q233.1 406.9 267 415 Z" fill="#7fae50" stroke="#1c3418" stroke-width="5.1"/>
<path d="M268 412 Q304.7 421.2 338 392 Q294.3 384.8 268 412 Z" fill="#7fae50" stroke="#1c3418" stroke-width="5.1"/>
<path d="M280 345 Q270.7 309.5 230 296 Q244.3 336.4 280 345 Z" fill="#7fae50" stroke="#1c3418" stroke-width="5.1"/>
<path d="M281 342 Q315.5 345.2 338 312 Q297.8 311.8 281 342 Z" fill="#7fae50" stroke="#1c3418" stroke-width="5.1"/>
<path d="M292 290 Q280.3 254.3 238 242 Q255.1 282.5 292 290 Z" fill="#7fae50" stroke="#1c3418" stroke-width="5.1"/>
<path d="M293 288 Q325.3 294.5 348 264 Q310.2 259.9 293 288 Z" fill="#7fae50" stroke="#1c3418" stroke-width="5.1"/>
<path d="M300 252 Q322.7 254.1 318 230 Q293.5 230.1 300 252 Z" fill="#7fae50" stroke="#1c3418" stroke-width="5.1"/>
</g>
<!-- 60_nodes.py -->
<defs>
<linearGradient id="n2g" x1="0" y1="0" x2="1" y2="1"><stop offset="0" stop-color="#dde8f2"/><stop offset="1" stop-color="#c3d6e8"/></linearGradient>
<linearGradient id="pillc" x1="0" y1="0" x2="0" y2="1"><stop offset="0" stop-color="#f9ecd2"/><stop offset="1" stop-color="#f1dcb6"/></linearGradient>
<linearGradient id="pillp" x1="0" y1="0" x2="0" y2="1"><stop offset="0" stop-color="#fbe3e0"/><stop offset="1" stop-color="#f3c9c6"/></linearGradient>
</defs>
<circle cx="712.1" cy="78.7" r="24.5" fill="url(#n2g)" stroke="#3f5f80" stroke-width="1.8"/><text x="698.8" y="87.2" font-size="27.9" class="b sb" textLength="16.7" lengthAdjust="spacingAndGlyphs">N</text><text x="714.8" y="92.9" font-size="20.3" class="b sb" textLength="10.3" lengthAdjust="spacingAndGlyphs">2</text>
<circle cx="1039.7" cy="164.8" r="24.5" fill="url(#n2g)" stroke="#3f5f80" stroke-width="1.8"/><text x="1026.4" y="173.3" font-size="27.9" class="b sb" textLength="16.7" lengthAdjust="spacingAndGlyphs">N</text><text x="1042.4" y="179" font-size="20.3" class="b sb" textLength="10.3" lengthAdjust="spacingAndGlyphs">2</text>
<rect x="497.3" y="508.2" width="67.2" height="41.8" rx="20.9" fill="url(#pillc)" stroke="#2a1a10" stroke-width="2"/><text x="503.8" y="539.1" font-size="30" class="b sb" textLength="35.05" lengthAdjust="spacingAndGlyphs">NH</text><text x="537.2" y="544.6" font-size="18.5" class="b sb">4</text><text x="552.5" y="529.7" font-size="19.5" class="b sb" text-anchor="middle">+</text>
<rect x="661.7" y="508.2" width="67.8" height="41.8" rx="20.9" fill="url(#pillc)" stroke="#2a1a10" stroke-width="2"/><text x="668.5" y="539.1" font-size="30" class="b sb" textLength="35.05" lengthAdjust="spacingAndGlyphs">NH</text><text x="701.9" y="544.6" font-size="18.5" class="b sb">4</text><text x="717.2" y="529.7" font-size="19.5" class="b sb" text-anchor="middle">+</text>
<rect x="837.2" y="508.3" width="64.8" height="41.6" rx="20.8" fill="url(#pillp)" stroke="#2a1a10" stroke-width="2"/><text x="844.1" y="539.1" font-size="30" class="b sb" textLength="34.85" lengthAdjust="spacingAndGlyphs">NO</text><text x="877.5" y="544.6" font-size="18.5" class="b sb">2</text><text x="891.2" y="529.4" font-size="22" class="b sb" text-anchor="middle">-</text>
<rect x="970.4" y="508.3" width="64.6" height="41.6" rx="20.8" fill="url(#pillc)" stroke="#2a1a10" stroke-width="2"/><text x="977.2" y="539.1" font-size="30" class="b sb" textLength="34.85" lengthAdjust="spacingAndGlyphs">NO</text><text x="1010.6" y="544.6" font-size="18.5" class="b sb">3</text><text x="1024.3" y="529.4" font-size="22" class="b sb" text-anchor="middle">-</text>
<circle cx="307.4" cy="431" r="25" fill="#f6e8dc" stroke="#2a1a10" stroke-width="1.9"/><g transform="translate(298.9 420.4) rotate(-5)"><path d="M-4.5 0 Q0 -1.5 4.5 0" fill="none" stroke="#742838" stroke-width="8.3" stroke-linecap="round"/><path d="M-4.5 0 Q0 -1.5 4.5 0" fill="none" stroke="#d06c7c" stroke-width="6" stroke-linecap="round"/></g><g transform="translate(316.3 426.4) rotate(-55)"><path d="M-5.5 0 Q0 3 5.5 0" fill="none" stroke="#742838" stroke-width="8.8" stroke-linecap="round"/><path d="M-5.5 0 Q0 3 5.5 0" fill="none" stroke="#d06c7c" stroke-width="6.5" stroke-linecap="round"/></g><g transform="translate(299.4 439.4) rotate(50)"><path d="M-5.5 0 Q0 -3 5.5 0" fill="none" stroke="#742838" stroke-width="8.8" stroke-linecap="round"/><path d="M-5.5 0 Q0 -3 5.5 0" fill="none" stroke="#d06c7c" stroke-width="6.5" stroke-linecap="round"/></g><g transform="translate(316.6 442.8) rotate(10)"><path d="M-2.2 0 Q0 0 2.2 0" fill="none" stroke="#742838" stroke-width="7.8" stroke-linecap="round"/><path d="M-2.2 0 Q0 0 2.2 0" fill="none" stroke="#d06c7c" stroke-width="5.5" stroke-linecap="round"/></g>
<circle cx="715.4" cy="441.9" r="21.2" fill="#f6e8dc" stroke="#2a1a10" stroke-width="1.9"/><g transform="translate(707.1 434.1) rotate(25)"><path d="M-3.2 0 Q0 -1 3.2 0" fill="none" stroke="#742838" stroke-width="6.9" stroke-linecap="round"/><path d="M-3.2 0 Q0 -1 3.2 0" fill="none" stroke="#d06c7c" stroke-width="4.6" stroke-linecap="round"/></g><g transform="translate(721.7 434.6) rotate(-30)"><path d="M-4.5 0 Q0 -2 4.5 0" fill="none" stroke="#742838" stroke-width="7.1" stroke-linecap="round"/><path d="M-4.5 0 Q0 -2 4.5 0" fill="none" stroke="#d06c7c" stroke-width="4.8" stroke-linecap="round"/></g><g transform="translate(707.6 447.8) rotate(45)"><path d="M-5 0 Q0 2.5 5 0" fill="none" stroke="#742838" stroke-width="7.1" stroke-linecap="round"/><path d="M-5 0 Q0 2.5 5 0" fill="none" stroke="#d06c7c" stroke-width="4.8" stroke-linecap="round"/></g><g transform="translate(722.2 449.2) rotate(-55)"><path d="M-4.5 0 Q0 -2 4.5 0" fill="none" stroke="#742838" stroke-width="7.1" stroke-linecap="round"/><path d="M-4.5 0 Q0 -2 4.5 0" fill="none" stroke="#d06c7c" stroke-width="4.8" stroke-linecap="round"/></g>
<circle cx="1102.9" cy="414.3" r="26.5" fill="#f6e8dc" stroke="#2a1a10" stroke-width="1.9"/><g transform="translate(1096.5 405.4) rotate(40)"><path d="M-6 0 Q0 -3 6 0" fill="none" stroke="#742838" stroke-width="7.7" stroke-linecap="round"/><path d="M-6 0 Q0 -3 6 0" fill="none" stroke="#d06c7c" stroke-width="5.4" stroke-linecap="round"/></g><g transform="translate(1111.1 404.4) rotate(-75)"><path d="M-2.7 0 Q0 1.5 2.7 0" fill="none" stroke="#742838" stroke-width="7.3" stroke-linecap="round"/><path d="M-2.7 0 Q0 1.5 2.7 0" fill="none" stroke="#d06c7c" stroke-width="5" stroke-linecap="round"/></g><g transform="translate(1092.9 422.9) rotate(-18)"><path d="M-4.3 0 Q0 -2 4.3 0" fill="none" stroke="#742838" stroke-width="7.3" stroke-linecap="round"/><path d="M-4.3 0 Q0 -2 4.3 0" fill="none" stroke="#d06c7c" stroke-width="5" stroke-linecap="round"/></g><g transform="translate(1113.2 423.2) rotate(-40)"><path d="M-6.6 0 Q0 4.5 6.6 0" fill="none" stroke="#742838" stroke-width="8.1" stroke-linecap="round"/><path d="M-6.6 0 Q0 4.5 6.6 0" fill="none" stroke="#d06c7c" stroke-width="5.8" stroke-linecap="round"/></g>
<!-- 90_text.py -->
<g class="on"><text id="t1" x="784.6" y="492.1" font-size="33.3" class="b" text-anchor="start" textLength="186.4" lengthAdjust="spacingAndGlyphs" >2. Nitrification</text></g>
<g class="ow"><text id="t2" x="691.7" y="631.5" font-size="33.8" class="b" text-anchor="start" textLength="237.4" lengthAdjust="spacingAndGlyphs" >4. Ammonification</text></g>
<g class="oc"><text id="t3" x="405" y="350.6" font-size="29.5" class="b" text-anchor="start" textLength="32.9" lengthAdjust="spacingAndGlyphs" >NH</text></g>
<g class="oc"><text id="t4" x="437.7" y="355.1" font-size="19" class="b" text-anchor="start" textLength="10.2" lengthAdjust="spacingAndGlyphs" >3</text></g>
<g class="o"><text id="t5" x="327.5" y="386.8" font-size="22.4" class="b" text-anchor="start" textLength="83.8" lengthAdjust="spacingAndGlyphs" >Legumes</text></g>
<g class="o"><text id="t6" x="213" y="478.4" font-size="22.4" class="b" text-anchor="start" textLength="144" lengthAdjust="spacingAndGlyphs" >Nitrogen-Fixing</text></g>
<g class="o"><text id="t7" x="246.9" y="501.9" font-size="22.4" class="b" text-anchor="start" textLength="75.5" lengthAdjust="spacingAndGlyphs" >Bacteria</text></g>
<g class="o"><text id="t8" x="214.3" y="525.8" font-size="22" class="" text-anchor="start" textLength="141" lengthAdjust="spacingAndGlyphs" >(Root nodules of</text></g>
<g class="o"><text id="t9" x="226" y="547.4" font-size="22" class="" text-anchor="start" textLength="117.2" lengthAdjust="spacingAndGlyphs" >legumes, soil)</text></g>
<g class="o"><text id="t10" x="623.7" y="483.4" font-size="22.4" class="b" text-anchor="start" textLength="125" lengthAdjust="spacingAndGlyphs" >Decomposers</text></g>
<g class="o"><text id="t11" x="624.8" y="504" font-size="20.2" class="" text-anchor="start" textLength="122.6" lengthAdjust="spacingAndGlyphs" >(Fungi, Bacteria)</text></g>
<g class="o"><text id="t12" x="887" y="411.6" font-size="22.4" class="b" text-anchor="start" textLength="90" lengthAdjust="spacingAndGlyphs" >Organic N</text></g>
<g class="o"><text id="t13" x="866.6" y="434.5" font-size="21.3" class="" text-anchor="start" textLength="129.7" lengthAdjust="spacingAndGlyphs" >(proteins, DNA)</text></g>
<g class="o"><text id="t14" x="549.6" y="571.5" font-size="22.4" class="b" text-anchor="start" textLength="129" lengthAdjust="spacingAndGlyphs" >Nitrosomonas</text></g>
<g class="o"><text id="t15" x="754.4" y="571.5" font-size="22.4" class="b" text-anchor="start" textLength="56" lengthAdjust="spacingAndGlyphs" >Nitrite</text></g>
<g class="o"><text id="t16" x="855.9" y="571.5" font-size="22.4" class="b" text-anchor="start" textLength="103" lengthAdjust="spacingAndGlyphs" >Nitrobacter</text></g>
<g class="o"><text id="t17" x="1096.9" y="470.3" font-size="22.8" class="b" text-anchor="start" textLength="107.6" lengthAdjust="spacingAndGlyphs" >Denitrifying</text></g>
<g class="o"><text id="t18" x="1113.5" y="492.6" font-size="22.8" class="b" text-anchor="start" textLength="75.8" lengthAdjust="spacingAndGlyphs" >Bacteria</text></g>
<g class="o"><text id="t19" x="1063" y="515.8" font-size="22.4" class="" text-anchor="start" textLength="175" lengthAdjust="spacingAndGlyphs" >(e.g., <tspan font-style="italic">Pseudomonas</tspan>)</text></g>
<text x="27.4" y="192" font-size="33.5" class="b st" text-anchor="start" textLength="160.8" lengthAdjust="spacingAndGlyphs" >Atmosphere</text>
<text x="49.2" y="216.7" font-size="23.4" class="" text-anchor="start" textLength="118.2" lengthAdjust="spacingAndGlyphs" >(N<tspan dy="4.5" font-size="16.5">2</tspan><tspan dy="-4.5">, 78% air)</tspan></text>
<text x="74.1" y="469.2" font-size="34.5" class="b st" text-anchor="start" textLength="60.3" lengthAdjust="spacingAndGlyphs" >Soil/</text>
<text x="36.3" y="501.7" font-size="34.5" class="b st" text-anchor="start" textLength="134.5" lengthAdjust="spacingAndGlyphs" >Terrestrial</text>
<text x="62" y="698" font-size="33.5" class="b st" text-anchor="start" textLength="77" lengthAdjust="spacingAndGlyphs" >Water</text>
<text x="142.7" y="265.5" font-size="32.5" class="b st" text-anchor="start" textLength="139.6" lengthAdjust="spacingAndGlyphs" >1. Nitrogen</text>
<text x="165.6" y="297.7" font-size="32.5" class="b st" text-anchor="start" textLength="101.8" lengthAdjust="spacingAndGlyphs" >Fixation</text>
<text x="802.8" y="228.7" font-size="33.3" class="b st" text-anchor="start" textLength="195.1" lengthAdjust="spacingAndGlyphs" >3. Assimilation</text>
<text x="1128.4" y="285.7" font-size="33" class="b st" text-anchor="start" textLength="213.2" lengthAdjust="spacingAndGlyphs" >5. Denitrification</text>
<use href="#t1" class="st"/>
<use href="#t2" class="st"/>
<text x="639.8" y="123.5" font-size="24" class="" text-anchor="start" textLength="167.2" lengthAdjust="spacingAndGlyphs" >Molecular nitrogen</text>
<text x="473.9" y="197.4" font-size="24.5" class="" text-anchor="start" textLength="85.2" lengthAdjust="spacingAndGlyphs" >Lightning</text>
<text x="604.3" y="265.6" font-size="24.5" class="" text-anchor="start" textLength="57" lengthAdjust="spacingAndGlyphs" >Plants</text>
<text x="751.4" y="276.7" font-size="24.5" class="" text-anchor="start" textLength="73.3" lengthAdjust="spacingAndGlyphs" >Animals</text>
<text x="223.3" y="632.9" font-size="24" class="wt" text-anchor="start" textLength="57.6" lengthAdjust="spacingAndGlyphs" >Ocean</text>
<text x="223.3" y="715.7" font-size="24" class="wt" text-anchor="start" textLength="57.6" lengthAdjust="spacingAndGlyphs" >Ocean</text>
<text x="594.9" y="649.5" font-size="24" class="wt" text-anchor="start" textLength="37.1" lengthAdjust="spacingAndGlyphs" >Fish</text>
<text x="637.6" y="715.7" font-size="24" class="wt" text-anchor="start" textLength="131.7" lengthAdjust="spacingAndGlyphs" >Aquatic plants</text>
<text x="1255.6" y="492.6" font-size="23.2" class="" text-anchor="start" textLength="93.4" lengthAdjust="spacingAndGlyphs" >Anaerobic</text>
<text x="1247.8" y="515.8" font-size="23.2" class="" text-anchor="start" textLength="109" lengthAdjust="spacingAndGlyphs" >(soil, water)</text>
<text x="1089.1" y="581.7" font-size="23.2" class="" text-anchor="start" textLength="92.4" lengthAdjust="spacingAndGlyphs" >Anaerobic</text>
<use href="#t3" class="sb"/>
<use href="#t4" class="sb"/>
<use href="#t5" class="sb"/>
<use href="#t6" class="sb"/>
<use href="#t7" class="sb"/>
<use href="#t8" class="sr"/>
<use href="#t9" class="sr"/>
<use href="#t10" class="sb"/>
<use href="#t11" class="sr"/>
<use href="#t12" class="sb"/>
<use href="#t13" class="sr"/>
<use href="#t14" class="sb"/>
<use href="#t15" class="sb"/>
<use href="#t16" class="sb"/>
<use href="#t17" class="sb"/>
<use href="#t18" class="sb"/>
<use href="#t19" class="sr"/>
<text x="648.5" y="758.5" font-size="23.4" class="sd" text-anchor="start" textLength="89.4" lengthAdjust="spacingAndGlyphs" >Sediment</text>
</svg>
</body></html>
